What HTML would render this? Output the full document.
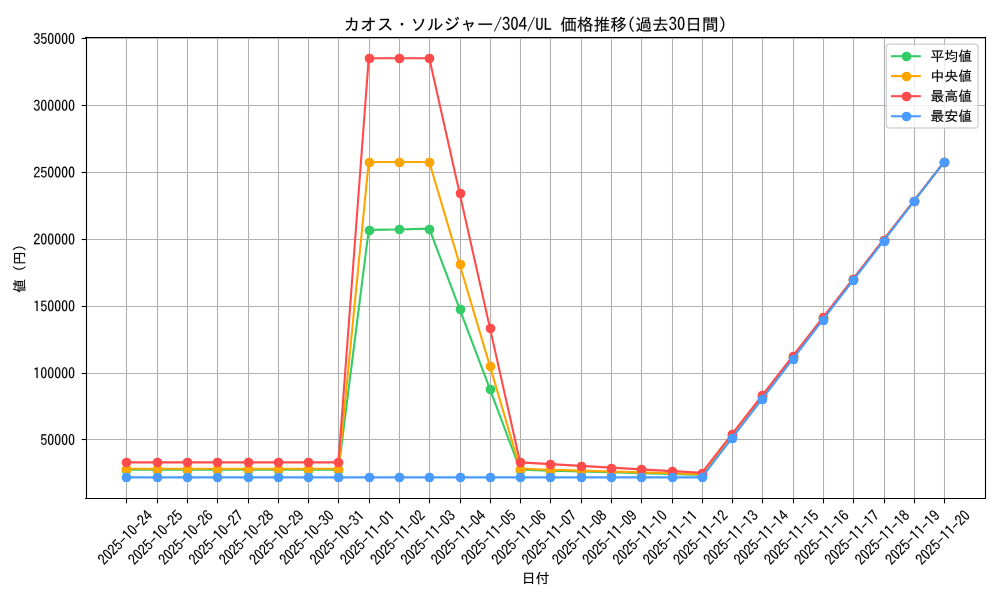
<!DOCTYPE html>
<html><head><meta charset="utf-8"><title>chart</title>
<style>html,body{margin:0;padding:0;background:#fff;width:1000px;height:600px;overflow:hidden;font-family:"Liberation Sans",sans-serif;}svg{display:block}g[id^="text_"] use{stroke:#000;stroke-width:60}</style>
</head><body>
<svg width="1000" height="600" viewBox="0 0 720 432">
<defs>
<style type="text/css">*{stroke-linejoin: round; stroke-linecap: butt}</style>
</defs>
<g id="figure_1">
<g id="patch_1">
<path d="M 0 432
L 720 432
L 720 0
L 0 0
z
" style="fill: #ffffff"/>
</g>
<g id="axes_1">
<g id="patch_2">
<path d="M 61.60104 358.8192
L 709.22304 358.8192
L 709.22304 26.892
L 61.60104 26.892
z
" style="fill: #ffffff"/>
</g>
<g id="matplotlib.axis_1">
<g id="xtick_1">
<g id="line2d_1">
<path d="M 91.0800 358.8192
L 91.0800 26.8920
" clip-path="url(#pd91340e1de)" style="fill: none; stroke: #b0b0b0; stroke-width: 0.8; stroke-linecap: square"/>
</g>
<g id="line2d_2">
<defs>
<path id="m7c25c535dc" d="M 0 0
L 0 3.5
" style="stroke: #000000; stroke-width: 0.8"/>
</defs>
<g>
<use href="#m7c25c535dc" x="91.0800" y="358.9200" style="stroke: #000000; stroke-width: 0.8"/>
</g>
</g>
<g id="text_1">
<!-- 2025-10-24 -->
<g transform="translate(75.183557 407.420469) rotate(-45) scale(0.1 -0.1)">
<defs>
<path id="IPAGothic-32" d="M 2900 325
L 250 325
Q 441 1553 1528 2453
Q 1963 2806 2116 3034
Q 2316 3319 2316 3706
Q 2316 4022 2175 4219
Q 1994 4494 1631 4494
Q 894 4494 825 3406
L 322 3406
Q 359 4056 628 4428
Q 981 4928 1644 4928
Q 2106 4928 2425 4659
Q 2828 4313 2828 3713
Q 2828 2875 1881 2156
Q 1072 1541 909 800
L 2900 800
L 2900 325
z
" transform="translate(-0.750 0) scale(0.016094 0.016719)"/>
<path id="IPAGothic-30" d="M 1600 4934 Q 2844 4934 2844 2566 Q 2844 197 1600 197 Q 359 197 359 2566 Q 359 4934 1600 4934 z M 1600 4494 Q 884 4494 884 2566 Q 884 638 1600 638 Q 2319 638 2319 2566 Q 2319 4494 1600 4494 z" transform="translate(-0.750 0) scale(0.016094 0.016719)"/>
<path id="IPAGothic-35" d="M 566 4806
L 2691 4806
L 2691 4359
L 1013 4359
L 944 2888
Q 1259 3250 1738 3250
Q 2250 3250 2588 2816
Q 2909 2397 2909 1772
Q 2909 1238 2697 844
Q 2341 197 1591 197
Q 538 197 328 1375
L 841 1375
Q 947 644 1588 644
Q 2000 644 2228 997
Q 2422 1294 2422 1766
Q 2422 2184 2259 2456
Q 2059 2822 1653 2822
Q 1156 2822 859 2225
L 456 2309
L 566 4806
z
" transform="translate(-0.750 0) scale(0.016094 0.016719)"/>
<path id="IPAGothic-2d" d="M 313 2663
L 2884 2663
L 2884 2203
L 313 2203
L 313 2663
z
" transform="scale(0.015625)"/>
<path id="IPAGothic-31" d="M 1428 325 L 1428 4103 Q 1138 3950 606 3880 L 606 4380 Q 1256 4509 1563 4806 L 1953 4806 L 1953 325 L 1428 325 z" transform="translate(-0.750 0) scale(0.016094 0.016719)"/>
<path id="IPAGothic-34" d="M 1966 4806
L 2509 4806
L 2509 1869
L 3041 1869
L 3041 1434
L 2509 1434
L 2509 325
L 2034 325
L 2034 1434
L 159 1434
L 159 1881
L 1966 4806
z
M 2034 4109
L 641 1869
L 2034 1869
L 2034 4109
z
" transform="translate(-0.750 0) scale(0.016094 0.016719)"/>
</defs>
<use href="#IPAGothic-32"/>
<use href="#IPAGothic-30" transform="translate(50 0)"/>
<use href="#IPAGothic-32" transform="translate(100 0)"/>
<use href="#IPAGothic-35" transform="translate(150 0)"/>
<use href="#IPAGothic-2d" transform="translate(200 0)"/>
<use href="#IPAGothic-31" transform="translate(250 0)"/>
<use href="#IPAGothic-30" transform="translate(300 0)"/>
<use href="#IPAGothic-2d" transform="translate(350 0)"/>
<use href="#IPAGothic-32" transform="translate(400 0)"/>
<use href="#IPAGothic-34" transform="translate(450 0)"/>
</g>
</g>
</g>
<g id="xtick_2">
<g id="line2d_3">
<path d="M 113.4000 358.8192
L 113.4000 26.8920
" clip-path="url(#pd91340e1de)" style="fill: none; stroke: #b0b0b0; stroke-width: 0.8; stroke-linecap: square"/>
</g>
<g id="line2d_4">
<g>
<use href="#m7c25c535dc" x="113.4000" y="358.9200" style="stroke: #000000; stroke-width: 0.8"/>
</g>
</g>
<g id="text_2">
<!-- 2025-10-25 -->
<g transform="translate(96.989012 407.420469) rotate(-45) scale(0.1 -0.1)">
<use href="#IPAGothic-32"/>
<use href="#IPAGothic-30" transform="translate(50 0)"/>
<use href="#IPAGothic-32" transform="translate(100 0)"/>
<use href="#IPAGothic-35" transform="translate(150 0)"/>
<use href="#IPAGothic-2d" transform="translate(200 0)"/>
<use href="#IPAGothic-31" transform="translate(250 0)"/>
<use href="#IPAGothic-30" transform="translate(300 0)"/>
<use href="#IPAGothic-2d" transform="translate(350 0)"/>
<use href="#IPAGothic-32" transform="translate(400 0)"/>
<use href="#IPAGothic-35" transform="translate(450 0)"/>
</g>
</g>
</g>
<g id="xtick_3">
<g id="line2d_5">
<path d="M 135.0000 358.8192
L 135.0000 26.8920
" clip-path="url(#pd91340e1de)" style="fill: none; stroke: #b0b0b0; stroke-width: 0.8; stroke-linecap: square"/>
</g>
<g id="line2d_6">
<g>
<use href="#m7c25c535dc" x="135.0000" y="358.9200" style="stroke: #000000; stroke-width: 0.8"/>
</g>
</g>
<g id="text_3">
<!-- 2025-10-26 -->
<g transform="translate(118.794466 407.420469) rotate(-45) scale(0.1 -0.1)">
<defs>
<path id="IPAGothic-36" d="M 2322 3809
Q 2225 4488 1713 4488
Q 1269 4488 1028 3950
Q 803 3447 794 2588
Q 1159 3119 1725 3119
Q 2194 3119 2519 2772
Q 2903 2369 2903 1709
Q 2903 1159 2641 750
Q 2284 200 1638 200
Q 1050 200 697 738
Q 319 1328 319 2375
Q 319 3488 650 4172
Q 1028 4934 1706 4934
Q 2634 4934 2847 3809
L 2322 3809
z
M 1644 2703
Q 1272 2703 1047 2363
Q 875 2094 875 1691
Q 875 1328 997 1075
Q 1209 641 1650 641
Q 2003 641 2219 959
Q 2409 1241 2409 1697
Q 2409 2113 2244 2375
Q 2041 2703 1644 2703
z
" transform="translate(-0.750 0) scale(0.016094 0.016719)"/>
</defs>
<use href="#IPAGothic-32"/>
<use href="#IPAGothic-30" transform="translate(50 0)"/>
<use href="#IPAGothic-32" transform="translate(100 0)"/>
<use href="#IPAGothic-35" transform="translate(150 0)"/>
<use href="#IPAGothic-2d" transform="translate(200 0)"/>
<use href="#IPAGothic-31" transform="translate(250 0)"/>
<use href="#IPAGothic-30" transform="translate(300 0)"/>
<use href="#IPAGothic-2d" transform="translate(350 0)"/>
<use href="#IPAGothic-32" transform="translate(400 0)"/>
<use href="#IPAGothic-36" transform="translate(450 0)"/>
</g>
</g>
</g>
<g id="xtick_4">
<g id="line2d_7">
<path d="M 156.6000 358.8192
L 156.6000 26.8920
" clip-path="url(#pd91340e1de)" style="fill: none; stroke: #b0b0b0; stroke-width: 0.8; stroke-linecap: square"/>
</g>
<g id="line2d_8">
<g>
<use href="#m7c25c535dc" x="156.6000" y="358.9200" style="stroke: #000000; stroke-width: 0.8"/>
</g>
</g>
<g id="text_4">
<!-- 2025-10-27 -->
<g transform="translate(140.599921 407.420469) rotate(-45) scale(0.1 -0.1)">
<defs>
<path id="IPAGothic-37" d="M 319 4806
L 2878 4806
L 2878 4441
Q 1978 2213 1528 325
L 947 325
Q 1434 2050 2328 4319
L 319 4319
L 319 4806
z
" transform="translate(-0.750 0) scale(0.016094 0.016719)"/>
</defs>
<use href="#IPAGothic-32"/>
<use href="#IPAGothic-30" transform="translate(50 0)"/>
<use href="#IPAGothic-32" transform="translate(100 0)"/>
<use href="#IPAGothic-35" transform="translate(150 0)"/>
<use href="#IPAGothic-2d" transform="translate(200 0)"/>
<use href="#IPAGothic-31" transform="translate(250 0)"/>
<use href="#IPAGothic-30" transform="translate(300 0)"/>
<use href="#IPAGothic-2d" transform="translate(350 0)"/>
<use href="#IPAGothic-32" transform="translate(400 0)"/>
<use href="#IPAGothic-37" transform="translate(450 0)"/>
</g>
</g>
</g>
<g id="xtick_5">
<g id="line2d_9">
<path d="M 178.9200 358.8192
L 178.9200 26.8920
" clip-path="url(#pd91340e1de)" style="fill: none; stroke: #b0b0b0; stroke-width: 0.8; stroke-linecap: square"/>
</g>
<g id="line2d_10">
<g>
<use href="#m7c25c535dc" x="178.9200" y="358.9200" style="stroke: #000000; stroke-width: 0.8"/>
</g>
</g>
<g id="text_5">
<!-- 2025-10-28 -->
<g transform="translate(162.405376 407.420469) rotate(-45) scale(0.1 -0.1)">
<defs>
<path id="IPAGothic-38" d="M 1050 2741
Q 403 3056 403 3750
Q 403 4084 563 4359
Q 900 4934 1600 4934
Q 1950 4934 2253 4750
Q 2797 4416 2797 3750
Q 2797 3056 2150 2741
Q 2978 2422 2978 1541
Q 2978 1038 2697 678
Q 2322 197 1600 197
Q 988 197 616 550
Q 225 922 225 1541
Q 225 2422 1050 2741
z
M 1600 4525
Q 1278 4525 1075 4294
Q 891 4078 891 3756
Q 891 3544 969 3372
Q 1159 2956 1606 2956
Q 1863 2956 2041 3116
Q 2309 3347 2309 3756
Q 2309 4156 2041 4378
Q 1856 4525 1600 4525
z
M 1594 2497
Q 1178 2497 931 2191
Q 725 1925 725 1541
Q 725 1172 925 925
Q 1172 619 1600 619
Q 2031 619 2281 925
Q 2478 1172 2478 1541
Q 2478 2022 2184 2278
Q 1947 2497 1594 2497
z
" transform="translate(-0.750 0) scale(0.016094 0.016719)"/>
</defs>
<use href="#IPAGothic-32"/>
<use href="#IPAGothic-30" transform="translate(50 0)"/>
<use href="#IPAGothic-32" transform="translate(100 0)"/>
<use href="#IPAGothic-35" transform="translate(150 0)"/>
<use href="#IPAGothic-2d" transform="translate(200 0)"/>
<use href="#IPAGothic-31" transform="translate(250 0)"/>
<use href="#IPAGothic-30" transform="translate(300 0)"/>
<use href="#IPAGothic-2d" transform="translate(350 0)"/>
<use href="#IPAGothic-32" transform="translate(400 0)"/>
<use href="#IPAGothic-38" transform="translate(450 0)"/>
</g>
</g>
</g>
<g id="xtick_6">
<g id="line2d_11">
<path d="M 200.5200 358.8192
L 200.5200 26.8920
" clip-path="url(#pd91340e1de)" style="fill: none; stroke: #b0b0b0; stroke-width: 0.8; stroke-linecap: square"/>
</g>
<g id="line2d_12">
<g>
<use href="#m7c25c535dc" x="200.5200" y="358.9200" style="stroke: #000000; stroke-width: 0.8"/>
</g>
</g>
<g id="text_6">
<!-- 2025-10-29 -->
<g transform="translate(184.21083 407.420469) rotate(-45) scale(0.1 -0.1)">
<defs>
<path id="IPAGothic-39" d="M 909 1363
Q 988 666 1569 666
Q 2431 666 2422 2500
Q 2063 1972 1519 1972
Q 859 1972 531 2588
Q 347 2947 347 3419
Q 347 4019 672 4459
Q 1022 4934 1569 4934
Q 2888 4934 2888 2706
Q 2888 197 1575 197
Q 975 197 628 716
Q 450 984 384 1363
L 909 1363
z
M 1591 4494
Q 834 4494 834 3431
Q 834 3038 969 2778
Q 1169 2394 1591 2394
Q 1859 2394 2069 2631
Q 2338 2938 2338 3431
Q 2338 3925 2125 4213
Q 1922 4494 1591 4494
z
" transform="translate(-0.750 0) scale(0.016094 0.016719)"/>
</defs>
<use href="#IPAGothic-32"/>
<use href="#IPAGothic-30" transform="translate(50 0)"/>
<use href="#IPAGothic-32" transform="translate(100 0)"/>
<use href="#IPAGothic-35" transform="translate(150 0)"/>
<use href="#IPAGothic-2d" transform="translate(200 0)"/>
<use href="#IPAGothic-31" transform="translate(250 0)"/>
<use href="#IPAGothic-30" transform="translate(300 0)"/>
<use href="#IPAGothic-2d" transform="translate(350 0)"/>
<use href="#IPAGothic-32" transform="translate(400 0)"/>
<use href="#IPAGothic-39" transform="translate(450 0)"/>
</g>
</g>
</g>
<g id="xtick_7">
<g id="line2d_13">
<path d="M 222.1200 358.8192
L 222.1200 26.8920
" clip-path="url(#pd91340e1de)" style="fill: none; stroke: #b0b0b0; stroke-width: 0.8; stroke-linecap: square"/>
</g>
<g id="line2d_14">
<g>
<use href="#m7c25c535dc" x="222.1200" y="358.9200" style="stroke: #000000; stroke-width: 0.8"/>
</g>
</g>
<g id="text_7">
<!-- 2025-10-30 -->
<g transform="translate(206.016285 407.420469) rotate(-45) scale(0.1 -0.1)">
<defs>
<path id="IPAGothic-33" d="M 1113 2931
L 1431 2931
Q 1841 2931 1994 3047
Q 2281 3269 2281 3713
Q 2281 4500 1566 4500
Q 972 4500 838 3828
L 331 3828
Q 400 4250 625 4525
Q 969 4934 1566 4934
Q 2066 4934 2391 4647
Q 2775 4309 2775 3731
Q 2775 2953 2078 2713
Q 2919 2388 2919 1528
Q 2919 978 2606 625
Q 2231 197 1575 197
Q 959 197 594 619
Q 325 928 269 1472
L 794 1472
Q 859 638 1575 638
Q 1906 638 2131 825
Q 2413 1066 2413 1528
Q 2413 2522 1431 2522
L 1113 2522
L 1113 2931
z
" transform="translate(-0.750 0) scale(0.016094 0.016719)"/>
</defs>
<use href="#IPAGothic-32"/>
<use href="#IPAGothic-30" transform="translate(50 0)"/>
<use href="#IPAGothic-32" transform="translate(100 0)"/>
<use href="#IPAGothic-35" transform="translate(150 0)"/>
<use href="#IPAGothic-2d" transform="translate(200 0)"/>
<use href="#IPAGothic-31" transform="translate(250 0)"/>
<use href="#IPAGothic-30" transform="translate(300 0)"/>
<use href="#IPAGothic-2d" transform="translate(350 0)"/>
<use href="#IPAGothic-33" transform="translate(400 0)"/>
<use href="#IPAGothic-30" transform="translate(450 0)"/>
</g>
</g>
</g>
<g id="xtick_8">
<g id="line2d_15">
<path d="M 243.7200 358.8192
L 243.7200 26.8920
" clip-path="url(#pd91340e1de)" style="fill: none; stroke: #b0b0b0; stroke-width: 0.8; stroke-linecap: square"/>
</g>
<g id="line2d_16">
<g>
<use href="#m7c25c535dc" x="243.7200" y="358.9200" style="stroke: #000000; stroke-width: 0.8"/>
</g>
</g>
<g id="text_8">
<!-- 2025-10-31 -->
<g transform="translate(227.821739 407.420469) rotate(-45) scale(0.1 -0.1)">
<use href="#IPAGothic-32"/>
<use href="#IPAGothic-30" transform="translate(50 0)"/>
<use href="#IPAGothic-32" transform="translate(100 0)"/>
<use href="#IPAGothic-35" transform="translate(150 0)"/>
<use href="#IPAGothic-2d" transform="translate(200 0)"/>
<use href="#IPAGothic-31" transform="translate(250 0)"/>
<use href="#IPAGothic-30" transform="translate(300 0)"/>
<use href="#IPAGothic-2d" transform="translate(350 0)"/>
<use href="#IPAGothic-33" transform="translate(400 0)"/>
<use href="#IPAGothic-31" transform="translate(450 0)"/>
</g>
</g>
</g>
<g id="xtick_9">
<g id="line2d_17">
<path d="M 266.0400 358.8192
L 266.0400 26.8920
" clip-path="url(#pd91340e1de)" style="fill: none; stroke: #b0b0b0; stroke-width: 0.8; stroke-linecap: square"/>
</g>
<g id="line2d_18">
<g>
<use href="#m7c25c535dc" x="266.0400" y="358.9200" style="stroke: #000000; stroke-width: 0.8"/>
</g>
</g>
<g id="text_9">
<!-- 2025-11-01 -->
<g transform="translate(249.627194 407.420469) rotate(-45) scale(0.1 -0.1)">
<use href="#IPAGothic-32"/>
<use href="#IPAGothic-30" transform="translate(50 0)"/>
<use href="#IPAGothic-32" transform="translate(100 0)"/>
<use href="#IPAGothic-35" transform="translate(150 0)"/>
<use href="#IPAGothic-2d" transform="translate(200 0)"/>
<use href="#IPAGothic-31" transform="translate(250 0)"/>
<use href="#IPAGothic-31" transform="translate(300 0)"/>
<use href="#IPAGothic-2d" transform="translate(350 0)"/>
<use href="#IPAGothic-30" transform="translate(400 0)"/>
<use href="#IPAGothic-31" transform="translate(450 0)"/>
</g>
</g>
</g>
<g id="xtick_10">
<g id="line2d_19">
<path d="M 287.6400 358.8192
L 287.6400 26.8920
" clip-path="url(#pd91340e1de)" style="fill: none; stroke: #b0b0b0; stroke-width: 0.8; stroke-linecap: square"/>
</g>
<g id="line2d_20">
<g>
<use href="#m7c25c535dc" x="287.6400" y="358.9200" style="stroke: #000000; stroke-width: 0.8"/>
</g>
</g>
<g id="text_10">
<!-- 2025-11-02 -->
<g transform="translate(271.432648 407.420469) rotate(-45) scale(0.1 -0.1)">
<use href="#IPAGothic-32"/>
<use href="#IPAGothic-30" transform="translate(50 0)"/>
<use href="#IPAGothic-32" transform="translate(100 0)"/>
<use href="#IPAGothic-35" transform="translate(150 0)"/>
<use href="#IPAGothic-2d" transform="translate(200 0)"/>
<use href="#IPAGothic-31" transform="translate(250 0)"/>
<use href="#IPAGothic-31" transform="translate(300 0)"/>
<use href="#IPAGothic-2d" transform="translate(350 0)"/>
<use href="#IPAGothic-30" transform="translate(400 0)"/>
<use href="#IPAGothic-32" transform="translate(450 0)"/>
</g>
</g>
</g>
<g id="xtick_11">
<g id="line2d_21">
<path d="M 309.2400 358.8192
L 309.2400 26.8920
" clip-path="url(#pd91340e1de)" style="fill: none; stroke: #b0b0b0; stroke-width: 0.8; stroke-linecap: square"/>
</g>
<g id="line2d_22">
<g>
<use href="#m7c25c535dc" x="309.2400" y="358.9200" style="stroke: #000000; stroke-width: 0.8"/>
</g>
</g>
<g id="text_11">
<!-- 2025-11-03 -->
<g transform="translate(293.238103 407.420469) rotate(-45) scale(0.1 -0.1)">
<use href="#IPAGothic-32"/>
<use href="#IPAGothic-30" transform="translate(50 0)"/>
<use href="#IPAGothic-32" transform="translate(100 0)"/>
<use href="#IPAGothic-35" transform="translate(150 0)"/>
<use href="#IPAGothic-2d" transform="translate(200 0)"/>
<use href="#IPAGothic-31" transform="translate(250 0)"/>
<use href="#IPAGothic-31" transform="translate(300 0)"/>
<use href="#IPAGothic-2d" transform="translate(350 0)"/>
<use href="#IPAGothic-30" transform="translate(400 0)"/>
<use href="#IPAGothic-33" transform="translate(450 0)"/>
</g>
</g>
</g>
<g id="xtick_12">
<g id="line2d_23">
<path d="M 331.5600 358.8192
L 331.5600 26.8920
" clip-path="url(#pd91340e1de)" style="fill: none; stroke: #b0b0b0; stroke-width: 0.8; stroke-linecap: square"/>
</g>
<g id="line2d_24">
<g>
<use href="#m7c25c535dc" x="331.5600" y="358.9200" style="stroke: #000000; stroke-width: 0.8"/>
</g>
</g>
<g id="text_12">
<!-- 2025-11-04 -->
<g transform="translate(315.043557 407.420469) rotate(-45) scale(0.1 -0.1)">
<use href="#IPAGothic-32"/>
<use href="#IPAGothic-30" transform="translate(50 0)"/>
<use href="#IPAGothic-32" transform="translate(100 0)"/>
<use href="#IPAGothic-35" transform="translate(150 0)"/>
<use href="#IPAGothic-2d" transform="translate(200 0)"/>
<use href="#IPAGothic-31" transform="translate(250 0)"/>
<use href="#IPAGothic-31" transform="translate(300 0)"/>
<use href="#IPAGothic-2d" transform="translate(350 0)"/>
<use href="#IPAGothic-30" transform="translate(400 0)"/>
<use href="#IPAGothic-34" transform="translate(450 0)"/>
</g>
</g>
</g>
<g id="xtick_13">
<g id="line2d_25">
<path d="M 353.1600 358.8192
L 353.1600 26.8920
" clip-path="url(#pd91340e1de)" style="fill: none; stroke: #b0b0b0; stroke-width: 0.8; stroke-linecap: square"/>
</g>
<g id="line2d_26">
<g>
<use href="#m7c25c535dc" x="353.1600" y="358.9200" style="stroke: #000000; stroke-width: 0.8"/>
</g>
</g>
<g id="text_13">
<!-- 2025-11-05 -->
<g transform="translate(336.849012 407.420469) rotate(-45) scale(0.1 -0.1)">
<use href="#IPAGothic-32"/>
<use href="#IPAGothic-30" transform="translate(50 0)"/>
<use href="#IPAGothic-32" transform="translate(100 0)"/>
<use href="#IPAGothic-35" transform="translate(150 0)"/>
<use href="#IPAGothic-2d" transform="translate(200 0)"/>
<use href="#IPAGothic-31" transform="translate(250 0)"/>
<use href="#IPAGothic-31" transform="translate(300 0)"/>
<use href="#IPAGothic-2d" transform="translate(350 0)"/>
<use href="#IPAGothic-30" transform="translate(400 0)"/>
<use href="#IPAGothic-35" transform="translate(450 0)"/>
</g>
</g>
</g>
<g id="xtick_14">
<g id="line2d_27">
<path d="M 374.7600 358.8192
L 374.7600 26.8920
" clip-path="url(#pd91340e1de)" style="fill: none; stroke: #b0b0b0; stroke-width: 0.8; stroke-linecap: square"/>
</g>
<g id="line2d_28">
<g>
<use href="#m7c25c535dc" x="374.7600" y="358.9200" style="stroke: #000000; stroke-width: 0.8"/>
</g>
</g>
<g id="text_14">
<!-- 2025-11-06 -->
<g transform="translate(358.654466 407.420469) rotate(-45) scale(0.1 -0.1)">
<use href="#IPAGothic-32"/>
<use href="#IPAGothic-30" transform="translate(50 0)"/>
<use href="#IPAGothic-32" transform="translate(100 0)"/>
<use href="#IPAGothic-35" transform="translate(150 0)"/>
<use href="#IPAGothic-2d" transform="translate(200 0)"/>
<use href="#IPAGothic-31" transform="translate(250 0)"/>
<use href="#IPAGothic-31" transform="translate(300 0)"/>
<use href="#IPAGothic-2d" transform="translate(350 0)"/>
<use href="#IPAGothic-30" transform="translate(400 0)"/>
<use href="#IPAGothic-36" transform="translate(450 0)"/>
</g>
</g>
</g>
<g id="xtick_15">
<g id="line2d_29">
<path d="M 396.3600 358.8192
L 396.3600 26.8920
" clip-path="url(#pd91340e1de)" style="fill: none; stroke: #b0b0b0; stroke-width: 0.8; stroke-linecap: square"/>
</g>
<g id="line2d_30">
<g>
<use href="#m7c25c535dc" x="396.3600" y="358.9200" style="stroke: #000000; stroke-width: 0.8"/>
</g>
</g>
<g id="text_15">
<!-- 2025-11-07 -->
<g transform="translate(380.459921 407.420469) rotate(-45) scale(0.1 -0.1)">
<use href="#IPAGothic-32"/>
<use href="#IPAGothic-30" transform="translate(50 0)"/>
<use href="#IPAGothic-32" transform="translate(100 0)"/>
<use href="#IPAGothic-35" transform="translate(150 0)"/>
<use href="#IPAGothic-2d" transform="translate(200 0)"/>
<use href="#IPAGothic-31" transform="translate(250 0)"/>
<use href="#IPAGothic-31" transform="translate(300 0)"/>
<use href="#IPAGothic-2d" transform="translate(350 0)"/>
<use href="#IPAGothic-30" transform="translate(400 0)"/>
<use href="#IPAGothic-37" transform="translate(450 0)"/>
</g>
</g>
</g>
<g id="xtick_16">
<g id="line2d_31">
<path d="M 418.6800 358.8192
L 418.6800 26.8920
" clip-path="url(#pd91340e1de)" style="fill: none; stroke: #b0b0b0; stroke-width: 0.8; stroke-linecap: square"/>
</g>
<g id="line2d_32">
<g>
<use href="#m7c25c535dc" x="418.6800" y="358.9200" style="stroke: #000000; stroke-width: 0.8"/>
</g>
</g>
<g id="text_16">
<!-- 2025-11-08 -->
<g transform="translate(402.265376 407.420469) rotate(-45) scale(0.1 -0.1)">
<use href="#IPAGothic-32"/>
<use href="#IPAGothic-30" transform="translate(50 0)"/>
<use href="#IPAGothic-32" transform="translate(100 0)"/>
<use href="#IPAGothic-35" transform="translate(150 0)"/>
<use href="#IPAGothic-2d" transform="translate(200 0)"/>
<use href="#IPAGothic-31" transform="translate(250 0)"/>
<use href="#IPAGothic-31" transform="translate(300 0)"/>
<use href="#IPAGothic-2d" transform="translate(350 0)"/>
<use href="#IPAGothic-30" transform="translate(400 0)"/>
<use href="#IPAGothic-38" transform="translate(450 0)"/>
</g>
</g>
</g>
<g id="xtick_17">
<g id="line2d_33">
<path d="M 440.2800 358.8192
L 440.2800 26.8920
" clip-path="url(#pd91340e1de)" style="fill: none; stroke: #b0b0b0; stroke-width: 0.8; stroke-linecap: square"/>
</g>
<g id="line2d_34">
<g>
<use href="#m7c25c535dc" x="440.2800" y="358.9200" style="stroke: #000000; stroke-width: 0.8"/>
</g>
</g>
<g id="text_17">
<!-- 2025-11-09 -->
<g transform="translate(424.07083 407.420469) rotate(-45) scale(0.1 -0.1)">
<use href="#IPAGothic-32"/>
<use href="#IPAGothic-30" transform="translate(50 0)"/>
<use href="#IPAGothic-32" transform="translate(100 0)"/>
<use href="#IPAGothic-35" transform="translate(150 0)"/>
<use href="#IPAGothic-2d" transform="translate(200 0)"/>
<use href="#IPAGothic-31" transform="translate(250 0)"/>
<use href="#IPAGothic-31" transform="translate(300 0)"/>
<use href="#IPAGothic-2d" transform="translate(350 0)"/>
<use href="#IPAGothic-30" transform="translate(400 0)"/>
<use href="#IPAGothic-39" transform="translate(450 0)"/>
</g>
</g>
</g>
<g id="xtick_18">
<g id="line2d_35">
<path d="M 461.8800 358.8192
L 461.8800 26.8920
" clip-path="url(#pd91340e1de)" style="fill: none; stroke: #b0b0b0; stroke-width: 0.8; stroke-linecap: square"/>
</g>
<g id="line2d_36">
<g>
<use href="#m7c25c535dc" x="461.8800" y="358.9200" style="stroke: #000000; stroke-width: 0.8"/>
</g>
</g>
<g id="text_18">
<!-- 2025-11-10 -->
<g transform="translate(445.876285 407.420469) rotate(-45) scale(0.1 -0.1)">
<use href="#IPAGothic-32"/>
<use href="#IPAGothic-30" transform="translate(50 0)"/>
<use href="#IPAGothic-32" transform="translate(100 0)"/>
<use href="#IPAGothic-35" transform="translate(150 0)"/>
<use href="#IPAGothic-2d" transform="translate(200 0)"/>
<use href="#IPAGothic-31" transform="translate(250 0)"/>
<use href="#IPAGothic-31" transform="translate(300 0)"/>
<use href="#IPAGothic-2d" transform="translate(350 0)"/>
<use href="#IPAGothic-31" transform="translate(400 0)"/>
<use href="#IPAGothic-30" transform="translate(450 0)"/>
</g>
</g>
</g>
<g id="xtick_19">
<g id="line2d_37">
<path d="M 484.2000 358.8192
L 484.2000 26.8920
" clip-path="url(#pd91340e1de)" style="fill: none; stroke: #b0b0b0; stroke-width: 0.8; stroke-linecap: square"/>
</g>
<g id="line2d_38">
<g>
<use href="#m7c25c535dc" x="484.2000" y="358.9200" style="stroke: #000000; stroke-width: 0.8"/>
</g>
</g>
<g id="text_19">
<!-- 2025-11-11 -->
<g transform="translate(467.681739 407.420469) rotate(-45) scale(0.1 -0.1)">
<use href="#IPAGothic-32"/>
<use href="#IPAGothic-30" transform="translate(50 0)"/>
<use href="#IPAGothic-32" transform="translate(100 0)"/>
<use href="#IPAGothic-35" transform="translate(150 0)"/>
<use href="#IPAGothic-2d" transform="translate(200 0)"/>
<use href="#IPAGothic-31" transform="translate(250 0)"/>
<use href="#IPAGothic-31" transform="translate(300 0)"/>
<use href="#IPAGothic-2d" transform="translate(350 0)"/>
<use href="#IPAGothic-31" transform="translate(400 0)"/>
<use href="#IPAGothic-31" transform="translate(450 0)"/>
</g>
</g>
</g>
<g id="xtick_20">
<g id="line2d_39">
<path d="M 505.8000 358.8192
L 505.8000 26.8920
" clip-path="url(#pd91340e1de)" style="fill: none; stroke: #b0b0b0; stroke-width: 0.8; stroke-linecap: square"/>
</g>
<g id="line2d_40">
<g>
<use href="#m7c25c535dc" x="505.8000" y="358.9200" style="stroke: #000000; stroke-width: 0.8"/>
</g>
</g>
<g id="text_20">
<!-- 2025-11-12 -->
<g transform="translate(489.487194 407.420469) rotate(-45) scale(0.1 -0.1)">
<use href="#IPAGothic-32"/>
<use href="#IPAGothic-30" transform="translate(50 0)"/>
<use href="#IPAGothic-32" transform="translate(100 0)"/>
<use href="#IPAGothic-35" transform="translate(150 0)"/>
<use href="#IPAGothic-2d" transform="translate(200 0)"/>
<use href="#IPAGothic-31" transform="translate(250 0)"/>
<use href="#IPAGothic-31" transform="translate(300 0)"/>
<use href="#IPAGothic-2d" transform="translate(350 0)"/>
<use href="#IPAGothic-31" transform="translate(400 0)"/>
<use href="#IPAGothic-32" transform="translate(450 0)"/>
</g>
</g>
</g>
<g id="xtick_21">
<g id="line2d_41">
<path d="M 527.4000 358.8192
L 527.4000 26.8920
" clip-path="url(#pd91340e1de)" style="fill: none; stroke: #b0b0b0; stroke-width: 0.8; stroke-linecap: square"/>
</g>
<g id="line2d_42">
<g>
<use href="#m7c25c535dc" x="527.4000" y="358.9200" style="stroke: #000000; stroke-width: 0.8"/>
</g>
</g>
<g id="text_21">
<!-- 2025-11-13 -->
<g transform="translate(511.292648 407.420469) rotate(-45) scale(0.1 -0.1)">
<use href="#IPAGothic-32"/>
<use href="#IPAGothic-30" transform="translate(50 0)"/>
<use href="#IPAGothic-32" transform="translate(100 0)"/>
<use href="#IPAGothic-35" transform="translate(150 0)"/>
<use href="#IPAGothic-2d" transform="translate(200 0)"/>
<use href="#IPAGothic-31" transform="translate(250 0)"/>
<use href="#IPAGothic-31" transform="translate(300 0)"/>
<use href="#IPAGothic-2d" transform="translate(350 0)"/>
<use href="#IPAGothic-31" transform="translate(400 0)"/>
<use href="#IPAGothic-33" transform="translate(450 0)"/>
</g>
</g>
</g>
<g id="xtick_22">
<g id="line2d_43">
<path d="M 549.0000 358.8192
L 549.0000 26.8920
" clip-path="url(#pd91340e1de)" style="fill: none; stroke: #b0b0b0; stroke-width: 0.8; stroke-linecap: square"/>
</g>
<g id="line2d_44">
<g>
<use href="#m7c25c535dc" x="549.0000" y="358.9200" style="stroke: #000000; stroke-width: 0.8"/>
</g>
</g>
<g id="text_22">
<!-- 2025-11-14 -->
<g transform="translate(533.098103 407.420469) rotate(-45) scale(0.1 -0.1)">
<use href="#IPAGothic-32"/>
<use href="#IPAGothic-30" transform="translate(50 0)"/>
<use href="#IPAGothic-32" transform="translate(100 0)"/>
<use href="#IPAGothic-35" transform="translate(150 0)"/>
<use href="#IPAGothic-2d" transform="translate(200 0)"/>
<use href="#IPAGothic-31" transform="translate(250 0)"/>
<use href="#IPAGothic-31" transform="translate(300 0)"/>
<use href="#IPAGothic-2d" transform="translate(350 0)"/>
<use href="#IPAGothic-31" transform="translate(400 0)"/>
<use href="#IPAGothic-34" transform="translate(450 0)"/>
</g>
</g>
</g>
<g id="xtick_23">
<g id="line2d_45">
<path d="M 571.3200 358.8192
L 571.3200 26.8920
" clip-path="url(#pd91340e1de)" style="fill: none; stroke: #b0b0b0; stroke-width: 0.8; stroke-linecap: square"/>
</g>
<g id="line2d_46">
<g>
<use href="#m7c25c535dc" x="571.3200" y="358.9200" style="stroke: #000000; stroke-width: 0.8"/>
</g>
</g>
<g id="text_23">
<!-- 2025-11-15 -->
<g transform="translate(554.903557 407.420469) rotate(-45) scale(0.1 -0.1)">
<use href="#IPAGothic-32"/>
<use href="#IPAGothic-30" transform="translate(50 0)"/>
<use href="#IPAGothic-32" transform="translate(100 0)"/>
<use href="#IPAGothic-35" transform="translate(150 0)"/>
<use href="#IPAGothic-2d" transform="translate(200 0)"/>
<use href="#IPAGothic-31" transform="translate(250 0)"/>
<use href="#IPAGothic-31" transform="translate(300 0)"/>
<use href="#IPAGothic-2d" transform="translate(350 0)"/>
<use href="#IPAGothic-31" transform="translate(400 0)"/>
<use href="#IPAGothic-35" transform="translate(450 0)"/>
</g>
</g>
</g>
<g id="xtick_24">
<g id="line2d_47">
<path d="M 592.9200 358.8192
L 592.9200 26.8920
" clip-path="url(#pd91340e1de)" style="fill: none; stroke: #b0b0b0; stroke-width: 0.8; stroke-linecap: square"/>
</g>
<g id="line2d_48">
<g>
<use href="#m7c25c535dc" x="592.9200" y="358.9200" style="stroke: #000000; stroke-width: 0.8"/>
</g>
</g>
<g id="text_24">
<!-- 2025-11-16 -->
<g transform="translate(576.709012 407.420469) rotate(-45) scale(0.1 -0.1)">
<use href="#IPAGothic-32"/>
<use href="#IPAGothic-30" transform="translate(50 0)"/>
<use href="#IPAGothic-32" transform="translate(100 0)"/>
<use href="#IPAGothic-35" transform="translate(150 0)"/>
<use href="#IPAGothic-2d" transform="translate(200 0)"/>
<use href="#IPAGothic-31" transform="translate(250 0)"/>
<use href="#IPAGothic-31" transform="translate(300 0)"/>
<use href="#IPAGothic-2d" transform="translate(350 0)"/>
<use href="#IPAGothic-31" transform="translate(400 0)"/>
<use href="#IPAGothic-36" transform="translate(450 0)"/>
</g>
</g>
</g>
<g id="xtick_25">
<g id="line2d_49">
<path d="M 614.5200 358.8192
L 614.5200 26.8920
" clip-path="url(#pd91340e1de)" style="fill: none; stroke: #b0b0b0; stroke-width: 0.8; stroke-linecap: square"/>
</g>
<g id="line2d_50">
<g>
<use href="#m7c25c535dc" x="614.5200" y="358.9200" style="stroke: #000000; stroke-width: 0.8"/>
</g>
</g>
<g id="text_25">
<!-- 2025-11-17 -->
<g transform="translate(598.514466 407.420469) rotate(-45) scale(0.1 -0.1)">
<use href="#IPAGothic-32"/>
<use href="#IPAGothic-30" transform="translate(50 0)"/>
<use href="#IPAGothic-32" transform="translate(100 0)"/>
<use href="#IPAGothic-35" transform="translate(150 0)"/>
<use href="#IPAGothic-2d" transform="translate(200 0)"/>
<use href="#IPAGothic-31" transform="translate(250 0)"/>
<use href="#IPAGothic-31" transform="translate(300 0)"/>
<use href="#IPAGothic-2d" transform="translate(350 0)"/>
<use href="#IPAGothic-31" transform="translate(400 0)"/>
<use href="#IPAGothic-37" transform="translate(450 0)"/>
</g>
</g>
</g>
<g id="xtick_26">
<g id="line2d_51">
<path d="M 636.8400 358.8192
L 636.8400 26.8920
" clip-path="url(#pd91340e1de)" style="fill: none; stroke: #b0b0b0; stroke-width: 0.8; stroke-linecap: square"/>
</g>
<g id="line2d_52">
<g>
<use href="#m7c25c535dc" x="636.8400" y="358.9200" style="stroke: #000000; stroke-width: 0.8"/>
</g>
</g>
<g id="text_26">
<!-- 2025-11-18 -->
<g transform="translate(620.319921 407.420469) rotate(-45) scale(0.1 -0.1)">
<use href="#IPAGothic-32"/>
<use href="#IPAGothic-30" transform="translate(50 0)"/>
<use href="#IPAGothic-32" transform="translate(100 0)"/>
<use href="#IPAGothic-35" transform="translate(150 0)"/>
<use href="#IPAGothic-2d" transform="translate(200 0)"/>
<use href="#IPAGothic-31" transform="translate(250 0)"/>
<use href="#IPAGothic-31" transform="translate(300 0)"/>
<use href="#IPAGothic-2d" transform="translate(350 0)"/>
<use href="#IPAGothic-31" transform="translate(400 0)"/>
<use href="#IPAGothic-38" transform="translate(450 0)"/>
</g>
</g>
</g>
<g id="xtick_27">
<g id="line2d_53">
<path d="M 658.4400 358.8192
L 658.4400 26.8920
" clip-path="url(#pd91340e1de)" style="fill: none; stroke: #b0b0b0; stroke-width: 0.8; stroke-linecap: square"/>
</g>
<g id="line2d_54">
<g>
<use href="#m7c25c535dc" x="658.4400" y="358.9200" style="stroke: #000000; stroke-width: 0.8"/>
</g>
</g>
<g id="text_27">
<!-- 2025-11-19 -->
<g transform="translate(642.125376 407.420469) rotate(-45) scale(0.1 -0.1)">
<use href="#IPAGothic-32"/>
<use href="#IPAGothic-30" transform="translate(50 0)"/>
<use href="#IPAGothic-32" transform="translate(100 0)"/>
<use href="#IPAGothic-35" transform="translate(150 0)"/>
<use href="#IPAGothic-2d" transform="translate(200 0)"/>
<use href="#IPAGothic-31" transform="translate(250 0)"/>
<use href="#IPAGothic-31" transform="translate(300 0)"/>
<use href="#IPAGothic-2d" transform="translate(350 0)"/>
<use href="#IPAGothic-31" transform="translate(400 0)"/>
<use href="#IPAGothic-39" transform="translate(450 0)"/>
</g>
</g>
</g>
<g id="xtick_28">
<g id="line2d_55">
<path d="M 680.0400 358.8192
L 680.0400 26.8920
" clip-path="url(#pd91340e1de)" style="fill: none; stroke: #b0b0b0; stroke-width: 0.8; stroke-linecap: square"/>
</g>
<g id="line2d_56">
<g>
<use href="#m7c25c535dc" x="680.0400" y="358.9200" style="stroke: #000000; stroke-width: 0.8"/>
</g>
</g>
<g id="text_28">
<!-- 2025-11-20 -->
<g transform="translate(663.93083 407.420469) rotate(-45) scale(0.1 -0.1)">
<use href="#IPAGothic-32"/>
<use href="#IPAGothic-30" transform="translate(50 0)"/>
<use href="#IPAGothic-32" transform="translate(100 0)"/>
<use href="#IPAGothic-35" transform="translate(150 0)"/>
<use href="#IPAGothic-2d" transform="translate(200 0)"/>
<use href="#IPAGothic-31" transform="translate(250 0)"/>
<use href="#IPAGothic-31" transform="translate(300 0)"/>
<use href="#IPAGothic-2d" transform="translate(350 0)"/>
<use href="#IPAGothic-32" transform="translate(400 0)"/>
<use href="#IPAGothic-30" transform="translate(450 0)"/>
</g>
</g>
</g>
<g id="text_29">
<!-- 日付 -->
<g transform="translate(375.62804 419.947065) scale(0.1 -0.1)">
<defs>
<path id="IPAGothic-65e5" d="M 5231 4800
L 5231 -288
L 4744 -288
L 4744 128
L 1647 128
L 1647 -288
L 1159 -288
L 1159 4800
L 5231 4800
z
M 1647 4372
L 1647 2731
L 4744 2731
L 4744 4372
L 1647 4372
z
M 1647 2297
L 1647 556
L 4744 556
L 4744 2297
L 1647 2297
z
" transform="scale(0.015625)"/>
<path id="IPAGothic-4ed8" d="M 1681 3772
L 1681 -447
L 1213 -447
L 1213 2825
Q 913 2316 578 1863
L 316 2253
Q 1241 3463 1653 5184
L 2128 5069
Q 1928 4378 1719 3859
L 1681 3772
z
M 5084 3816
L 5994 3816
L 5994 3388
L 5109 3388
L 5109 213
Q 5109 -78 5006 -191
Q 4888 -319 4525 -319
Q 4031 -319 3516 -266
L 3431 238
Q 3978 141 4403 141
Q 4634 141 4634 384
L 4634 3388
L 2031 3388
L 2031 3816
L 4609 3816
L 4609 5153
L 5084 5153
L 5084 3816
z
M 3431 1172
Q 3034 1994 2547 2566
L 2931 2822
Q 3428 2231 3853 1472
L 3431 1172
z
" transform="scale(0.015625)"/>
</defs>
<use href="#IPAGothic-65e5"/>
<use href="#IPAGothic-4ed8" transform="translate(100 0)"/>
</g>
</g>
</g>
<g id="matplotlib.axis_2">
<g id="ytick_1">
<g id="line2d_57">
<path d="M 61.6010 316.4400
L 709.2230 316.4400
" clip-path="url(#pd91340e1de)" style="fill: none; stroke: #b0b0b0; stroke-width: 0.8; stroke-linecap: square"/>
</g>
<g id="line2d_58">
<defs>
<path id="mb258c49b38" d="M 0 0
L -3.5 0
" style="stroke: #000000; stroke-width: 0.8"/>
</defs>
<g>
<use href="#mb258c49b38" x="62.2800" y="316.4400" style="stroke: #000000; stroke-width: 0.8"/>
</g>
</g>
<g id="text_30">
<!-- 50000 -->
<g transform="translate(29.02504 320.770556) scale(0.1 -0.1)">
<use href="#IPAGothic-35"/>
<use href="#IPAGothic-30" transform="translate(50 0)"/>
<use href="#IPAGothic-30" transform="translate(100 0)"/>
<use href="#IPAGothic-30" transform="translate(150 0)"/>
<use href="#IPAGothic-30" transform="translate(200 0)"/>
</g>
</g>
</g>
<g id="ytick_2">
<g id="line2d_59">
<path d="M 61.6010 268.9200
L 709.2230 268.9200
" clip-path="url(#pd91340e1de)" style="fill: none; stroke: #b0b0b0; stroke-width: 0.8; stroke-linecap: square"/>
</g>
<g id="line2d_60">
<g>
<use href="#mb258c49b38" x="62.2800" y="268.9200" style="stroke: #000000; stroke-width: 0.8"/>
</g>
</g>
<g id="text_31">
<!-- 100000 -->
<g transform="translate(24.02504 272.632264) scale(0.1 -0.1)">
<use href="#IPAGothic-31"/>
<use href="#IPAGothic-30" transform="translate(50 0)"/>
<use href="#IPAGothic-30" transform="translate(100 0)"/>
<use href="#IPAGothic-30" transform="translate(150 0)"/>
<use href="#IPAGothic-30" transform="translate(200 0)"/>
<use href="#IPAGothic-30" transform="translate(250 0)"/>
</g>
</g>
</g>
<g id="ytick_3">
<g id="line2d_61">
<path d="M 61.6010 220.6800
L 709.2230 220.6800
" clip-path="url(#pd91340e1de)" style="fill: none; stroke: #b0b0b0; stroke-width: 0.8; stroke-linecap: square"/>
</g>
<g id="line2d_62">
<g>
<use href="#mb258c49b38" x="62.2800" y="220.6800" style="stroke: #000000; stroke-width: 0.8"/>
</g>
</g>
<g id="text_32">
<!-- 150000 -->
<g transform="translate(24.02504 224.493971) scale(0.1 -0.1)">
<use href="#IPAGothic-31"/>
<use href="#IPAGothic-35" transform="translate(50 0)"/>
<use href="#IPAGothic-30" transform="translate(100 0)"/>
<use href="#IPAGothic-30" transform="translate(150 0)"/>
<use href="#IPAGothic-30" transform="translate(200 0)"/>
<use href="#IPAGothic-30" transform="translate(250 0)"/>
</g>
</g>
</g>
<g id="ytick_4">
<g id="line2d_63">
<path d="M 61.6010 172.4400
L 709.2230 172.4400
" clip-path="url(#pd91340e1de)" style="fill: none; stroke: #b0b0b0; stroke-width: 0.8; stroke-linecap: square"/>
</g>
<g id="line2d_64">
<g>
<use href="#mb258c49b38" x="62.2800" y="172.4400" style="stroke: #000000; stroke-width: 0.8"/>
</g>
</g>
<g id="text_33">
<!-- 200000 -->
<g transform="translate(24.02504 176.355678) scale(0.1 -0.1)">
<use href="#IPAGothic-32"/>
<use href="#IPAGothic-30" transform="translate(50 0)"/>
<use href="#IPAGothic-30" transform="translate(100 0)"/>
<use href="#IPAGothic-30" transform="translate(150 0)"/>
<use href="#IPAGothic-30" transform="translate(200 0)"/>
<use href="#IPAGothic-30" transform="translate(250 0)"/>
</g>
</g>
</g>
<g id="ytick_5">
<g id="line2d_65">
<path d="M 61.6010 124.2000
L 709.2230 124.2000
" clip-path="url(#pd91340e1de)" style="fill: none; stroke: #b0b0b0; stroke-width: 0.8; stroke-linecap: square"/>
</g>
<g id="line2d_66">
<g>
<use href="#mb258c49b38" x="62.2800" y="124.2000" style="stroke: #000000; stroke-width: 0.8"/>
</g>
</g>
<g id="text_34">
<!-- 250000 -->
<g transform="translate(24.02504 128.217385) scale(0.1 -0.1)">
<use href="#IPAGothic-32"/>
<use href="#IPAGothic-35" transform="translate(50 0)"/>
<use href="#IPAGothic-30" transform="translate(100 0)"/>
<use href="#IPAGothic-30" transform="translate(150 0)"/>
<use href="#IPAGothic-30" transform="translate(200 0)"/>
<use href="#IPAGothic-30" transform="translate(250 0)"/>
</g>
</g>
</g>
<g id="ytick_6">
<g id="line2d_67">
<path d="M 61.6010 75.9600
L 709.2230 75.9600
" clip-path="url(#pd91340e1de)" style="fill: none; stroke: #b0b0b0; stroke-width: 0.8; stroke-linecap: square"/>
</g>
<g id="line2d_68">
<g>
<use href="#mb258c49b38" x="62.2800" y="75.9600" style="stroke: #000000; stroke-width: 0.8"/>
</g>
</g>
<g id="text_35">
<!-- 300000 -->
<g transform="translate(24.02504 80.079092) scale(0.1 -0.1)">
<use href="#IPAGothic-33"/>
<use href="#IPAGothic-30" transform="translate(50 0)"/>
<use href="#IPAGothic-30" transform="translate(100 0)"/>
<use href="#IPAGothic-30" transform="translate(150 0)"/>
<use href="#IPAGothic-30" transform="translate(200 0)"/>
<use href="#IPAGothic-30" transform="translate(250 0)"/>
</g>
</g>
</g>
<g id="ytick_7">
<g id="line2d_69">
<path d="M 61.6010 27.7200
L 709.2230 27.7200
" clip-path="url(#pd91340e1de)" style="fill: none; stroke: #b0b0b0; stroke-width: 0.8; stroke-linecap: square"/>
</g>
<g id="line2d_70">
<g>
<use href="#mb258c49b38" x="62.2800" y="27.7200" style="stroke: #000000; stroke-width: 0.8"/>
</g>
</g>
<g id="text_36">
<!-- 350000 -->
<g transform="translate(24.02504 31.9408) scale(0.1 -0.1)">
<use href="#IPAGothic-33"/>
<use href="#IPAGothic-35" transform="translate(50 0)"/>
<use href="#IPAGothic-30" transform="translate(100 0)"/>
<use href="#IPAGothic-30" transform="translate(150 0)"/>
<use href="#IPAGothic-30" transform="translate(200 0)"/>
<use href="#IPAGothic-30" transform="translate(250 0)"/>
</g>
</g>
</g>
<g id="text_37">
<!-- 値 (円) -->
<g transform="translate(17.656915 210.8596) rotate(-90) scale(0.1 -0.1)">
<defs>
<path id="IPAGothic-5024" d="M 4172 3675
L 5453 3675
L 5453 684
L 3019 684
L 3019 3675
L 3747 3675
Q 3788 3884 3825 4153
L 2144 4153
L 2144 4544
L 3881 4544
Q 3922 4841 3966 5325
L 4434 5272
L 4391 4953
Q 4331 4578 4331 4544
L 5863 4544
L 5863 4153
L 4269 4153
Q 4200 3781 4172 3675
z
M 5038 3316
L 3434 3316
L 3434 2803
L 5038 2803
L 5038 3316
z
M 3434 2450
L 3434 1941
L 5038 1941
L 5038 2450
L 3434 2450
z
M 3434 1588
L 3434 1044
L 5038 1044
L 5038 1588
L 3434 1588
z
M 1509 3669
L 1509 -447
L 1069 -447
L 1069 2728
Q 856 2338 531 1875
L 288 2266
Q 1163 3534 1541 5325
L 1975 5225
Q 1791 4378 1509 3669
z
M 2488 244
L 6034 244
L 6034 -153
L 2488 -153
L 2488 -447
L 2059 -447
L 2059 3213
L 2488 3213
L 2488 244
z
" transform="scale(0.015625)"/>
<path id="IPAGothic-20" transform="scale(0.015625)"/>
<path id="IPAGothic-28" d="M 2219 -434
Q 997 769 997 2441
Q 997 4097 2219 5300
L 2719 5300
Q 1478 4078 1478 2425
Q 1478 788 2719 -434
L 2219 -434
z
" transform="scale(0.015625)"/>
<path id="IPAGothic-5186" d="M 5594 4806
L 5594 319
Q 5594 34 5491 -97
Q 5366 -269 4959 -269
Q 4469 -269 3897 -225
L 3809 275
Q 4384 206 4844 206
Q 5106 206 5106 434
L 5106 2119
L 1281 2119
L 1281 -359
L 794 -359
L 794 4806
L 5594 4806
z
M 1281 4366
L 1281 2547
L 2944 2547
L 2944 4366
L 1281 4366
z
M 5106 2547
L 5106 4366
L 3413 4366
L 3413 2547
L 5106 2547
z
" transform="scale(0.015625)"/>
<path id="IPAGothic-29" d="M 481 -434
Q 1722 788 1722 2434
Q 1722 4069 481 5300
L 981 5300
Q 2203 4097 2203 2434
Q 2203 769 981 -434
L 481 -434
z
" transform="scale(0.015625)"/>
</defs>
<use href="#IPAGothic-5024"/>
<use href="#IPAGothic-20" transform="translate(100 0)"/>
<use href="#IPAGothic-28" transform="translate(150 0)"/>
<use href="#IPAGothic-5186" transform="translate(200 0)"/>
<use href="#IPAGothic-29" transform="translate(300 0)"/>
</g>
</g>
</g>
<g id="line2d_71">
<path d="M 91.038404 338.222654
L 112.843858 338.222654
L 134.649313 338.222654
L 156.454767 338.222654
L 178.260222 338.222654
L 200.065676 338.222654
L 221.871131 338.222654
L 243.676585 338.222654
L 265.48204 165.502459
L 287.287495 165.21363
L 309.092949 164.63597
L 330.898404 222.401921
L 352.703858 280.071596
L 374.509313 338.222654
L 396.314767 338.829196
L 418.120222 339.445366
L 439.925676 340.051909
L 461.731131 340.658451
L 483.536585 341.274622
L 505.34204 341.881164
L 527.147495 313.720263
L 548.952949 285.559361
L 570.758404 257.39846
L 592.563858 229.237559
L 614.369313 201.076658
L 636.174767 172.915756
L 657.980222 144.754855
L 679.785676 116.593954
" clip-path="url(#pd91340e1de)" style="fill: none; stroke: #33cc66; stroke-width: 1.5; stroke-linecap: square"/>
<defs>
<path id="m3c72dea2d6" d="M 0 3
C 0.795609 3 1.55874 2.683901 2.12132 2.12132
C 2.683901 1.55874 3 0.795609 3 0
C 3 -0.795609 2.683901 -1.55874 2.12132 -2.12132
C 1.55874 -2.683901 0.795609 -3 0 -3
C -0.795609 -3 -1.55874 -2.683901 -2.12132 -2.12132
C -2.683901 -1.55874 -3 -0.795609 -3 0
C -3 0.795609 -2.683901 1.55874 -2.12132 2.12132
C -1.55874 2.683901 -0.795609 3 0 3
z
" style="stroke: #33cc66"/>
</defs>
<g clip-path="url(#pd91340e1de)">
<use href="#m3c72dea2d6" x="91.0800" y="338.7600" style="fill: #33cc66; stroke: #33cc66"/>
<use href="#m3c72dea2d6" x="113.4000" y="338.7600" style="fill: #33cc66; stroke: #33cc66"/>
<use href="#m3c72dea2d6" x="135.0000" y="338.7600" style="fill: #33cc66; stroke: #33cc66"/>
<use href="#m3c72dea2d6" x="156.6000" y="338.7600" style="fill: #33cc66; stroke: #33cc66"/>
<use href="#m3c72dea2d6" x="178.9200" y="338.7600" style="fill: #33cc66; stroke: #33cc66"/>
<use href="#m3c72dea2d6" x="200.5200" y="338.7600" style="fill: #33cc66; stroke: #33cc66"/>
<use href="#m3c72dea2d6" x="222.1200" y="338.7600" style="fill: #33cc66; stroke: #33cc66"/>
<use href="#m3c72dea2d6" x="243.7200" y="338.7600" style="fill: #33cc66; stroke: #33cc66"/>
<use href="#m3c72dea2d6" x="266.0400" y="165.9600" style="fill: #33cc66; stroke: #33cc66"/>
<use href="#m3c72dea2d6" x="287.6400" y="165.2400" style="fill: #33cc66; stroke: #33cc66"/>
<use href="#m3c72dea2d6" x="309.2400" y="165.2400" style="fill: #33cc66; stroke: #33cc66"/>
<use href="#m3c72dea2d6" x="331.5600" y="222.8400" style="fill: #33cc66; stroke: #33cc66"/>
<use href="#m3c72dea2d6" x="353.1600" y="280.4400" style="fill: #33cc66; stroke: #33cc66"/>
<use href="#m3c72dea2d6" x="374.7600" y="338.7600" style="fill: #33cc66; stroke: #33cc66"/>
<use href="#m3c72dea2d6" x="396.3600" y="339.4800" style="fill: #33cc66; stroke: #33cc66"/>
<use href="#m3c72dea2d6" x="418.6800" y="339.4800" style="fill: #33cc66; stroke: #33cc66"/>
<use href="#m3c72dea2d6" x="440.2800" y="340.2000" style="fill: #33cc66; stroke: #33cc66"/>
<use href="#m3c72dea2d6" x="461.8800" y="340.9200" style="fill: #33cc66; stroke: #33cc66"/>
<use href="#m3c72dea2d6" x="484.2000" y="341.6400" style="fill: #33cc66; stroke: #33cc66"/>
<use href="#m3c72dea2d6" x="505.8000" y="342.3600" style="fill: #33cc66; stroke: #33cc66"/>
<use href="#m3c72dea2d6" x="527.4000" y="314.2800" style="fill: #33cc66; stroke: #33cc66"/>
<use href="#m3c72dea2d6" x="549.0000" y="286.2000" style="fill: #33cc66; stroke: #33cc66"/>
<use href="#m3c72dea2d6" x="571.3200" y="257.4000" style="fill: #33cc66; stroke: #33cc66"/>
<use href="#m3c72dea2d6" x="592.9200" y="229.3200" style="fill: #33cc66; stroke: #33cc66"/>
<use href="#m3c72dea2d6" x="614.5200" y="201.2400" style="fill: #33cc66; stroke: #33cc66"/>
<use href="#m3c72dea2d6" x="636.8400" y="173.1600" style="fill: #33cc66; stroke: #33cc66"/>
<use href="#m3c72dea2d6" x="658.4400" y="145.0800" style="fill: #33cc66; stroke: #33cc66"/>
<use href="#m3c72dea2d6" x="680.0400" y="117.0000" style="fill: #33cc66; stroke: #33cc66"/>
</g>
</g>
<g id="line2d_72">
<path d="M 91.038404 337.53909
L 112.843858 337.53909
L 134.649313 337.53909
L 156.454767 337.53909
L 178.260222 337.53909
L 200.065676 337.53909
L 221.871131 337.53909
L 243.676585 337.53909
L 265.48204 116.593954
L 287.287495 116.593954
L 309.092949 116.593954
L 330.898404 190.245542
L 352.703858 263.415747
L 374.509313 337.53909
L 396.314767 338.184143
L 418.120222 338.829196
L 439.925676 339.474249
L 461.731131 340.109675
L 483.536585 340.754728
L 505.34204 341.399781
L 527.147495 313.296646
L 548.952949 285.19351
L 570.758404 257.100003
L 592.563858 228.996867
L 614.369313 200.893732
L 636.174767 172.790597
L 657.980222 144.697089
L 679.785676 116.593954
" clip-path="url(#pd91340e1de)" style="fill: none; stroke: #ffa500; stroke-width: 1.5; stroke-linecap: square"/>
<defs>
<path id="m2c136436b5" d="M 0 3
C 0.795609 3 1.55874 2.683901 2.12132 2.12132
C 2.683901 1.55874 3 0.795609 3 0
C 3 -0.795609 2.683901 -1.55874 2.12132 -2.12132
C 1.55874 -2.683901 0.795609 -3 0 -3
C -0.795609 -3 -1.55874 -2.683901 -2.12132 -2.12132
C -2.683901 -1.55874 -3 -0.795609 -3 0
C -3 0.795609 -2.683901 1.55874 -2.12132 2.12132
C -1.55874 2.683901 -0.795609 3 0 3
z
" style="stroke: #ffa500"/>
</defs>
<g clip-path="url(#pd91340e1de)">
<use href="#m2c136436b5" x="91.0800" y="338.0400" style="fill: #ffa500; stroke: #ffa500"/>
<use href="#m2c136436b5" x="113.4000" y="338.0400" style="fill: #ffa500; stroke: #ffa500"/>
<use href="#m2c136436b5" x="135.0000" y="338.0400" style="fill: #ffa500; stroke: #ffa500"/>
<use href="#m2c136436b5" x="156.6000" y="338.0400" style="fill: #ffa500; stroke: #ffa500"/>
<use href="#m2c136436b5" x="178.9200" y="338.0400" style="fill: #ffa500; stroke: #ffa500"/>
<use href="#m2c136436b5" x="200.5200" y="338.0400" style="fill: #ffa500; stroke: #ffa500"/>
<use href="#m2c136436b5" x="222.1200" y="338.0400" style="fill: #ffa500; stroke: #ffa500"/>
<use href="#m2c136436b5" x="243.7200" y="338.0400" style="fill: #ffa500; stroke: #ffa500"/>
<use href="#m2c136436b5" x="266.0400" y="117.0000" style="fill: #ffa500; stroke: #ffa500"/>
<use href="#m2c136436b5" x="287.6400" y="117.0000" style="fill: #ffa500; stroke: #ffa500"/>
<use href="#m2c136436b5" x="309.2400" y="117.0000" style="fill: #ffa500; stroke: #ffa500"/>
<use href="#m2c136436b5" x="331.5600" y="190.4400" style="fill: #ffa500; stroke: #ffa500"/>
<use href="#m2c136436b5" x="353.1600" y="263.8800" style="fill: #ffa500; stroke: #ffa500"/>
<use href="#m2c136436b5" x="374.7600" y="338.0400" style="fill: #ffa500; stroke: #ffa500"/>
<use href="#m2c136436b5" x="396.3600" y="338.7600" style="fill: #ffa500; stroke: #ffa500"/>
<use href="#m2c136436b5" x="418.6800" y="339.4800" style="fill: #ffa500; stroke: #ffa500"/>
<use href="#m2c136436b5" x="440.2800" y="339.4800" style="fill: #ffa500; stroke: #ffa500"/>
<use href="#m2c136436b5" x="461.8800" y="340.2000" style="fill: #ffa500; stroke: #ffa500"/>
<use href="#m2c136436b5" x="484.2000" y="340.9200" style="fill: #ffa500; stroke: #ffa500"/>
<use href="#m2c136436b5" x="505.8000" y="341.6400" style="fill: #ffa500; stroke: #ffa500"/>
<use href="#m2c136436b5" x="527.4000" y="313.5600" style="fill: #ffa500; stroke: #ffa500"/>
<use href="#m2c136436b5" x="549.0000" y="285.4800" style="fill: #ffa500; stroke: #ffa500"/>
<use href="#m2c136436b5" x="571.3200" y="257.4000" style="fill: #ffa500; stroke: #ffa500"/>
<use href="#m2c136436b5" x="592.9200" y="229.3200" style="fill: #ffa500; stroke: #ffa500"/>
<use href="#m2c136436b5" x="614.5200" y="201.2400" style="fill: #ffa500; stroke: #ffa500"/>
<use href="#m2c136436b5" x="636.8400" y="173.1600" style="fill: #ffa500; stroke: #ffa500"/>
<use href="#m2c136436b5" x="658.4400" y="145.0800" style="fill: #ffa500; stroke: #ffa500"/>
<use href="#m2c136436b5" x="680.0400" y="117.0000" style="fill: #ffa500; stroke: #ffa500"/>
</g>
</g>
<g id="line2d_73">
<path d="M 91.038404 332.927442
L 112.843858 332.927442
L 134.649313 332.927442
L 156.454767 332.927442
L 178.260222 332.927442
L 200.065676 332.927442
L 221.871131 332.927442
L 243.676585 332.927442
L 265.48204 41.9796
L 287.287495 41.9796
L 309.092949 41.9796
L 330.898404 138.930122
L 352.703858 235.880643
L 374.509313 332.927442
L 396.314767 334.179037
L 418.120222 335.430633
L 439.925676 336.682228
L 461.731131 337.933824
L 483.536585 339.18542
L 505.34204 340.437015
L 527.147495 312.457114
L 548.952949 284.47625
L 570.758404 256.496349
L 592.563858 228.515485
L 614.369313 200.535583
L 636.174767 172.554719
L 657.980222 144.574818
L 679.785676 116.593954
" clip-path="url(#pd91340e1de)" style="fill: none; stroke: #ff4b4b; stroke-width: 1.5; stroke-linecap: square"/>
<defs>
<path id="m0f08fa1ac6" d="M 0 3
C 0.795609 3 1.55874 2.683901 2.12132 2.12132
C 2.683901 1.55874 3 0.795609 3 0
C 3 -0.795609 2.683901 -1.55874 2.12132 -2.12132
C 1.55874 -2.683901 0.795609 -3 0 -3
C -0.795609 -3 -1.55874 -2.683901 -2.12132 -2.12132
C -2.683901 -1.55874 -3 -0.795609 -3 0
C -3 0.795609 -2.683901 1.55874 -2.12132 2.12132
C -1.55874 2.683901 -0.795609 3 0 3
z
" style="stroke: #ff4b4b"/>
</defs>
<g clip-path="url(#pd91340e1de)">
<use href="#m0f08fa1ac6" x="91.0800" y="333.0000" style="fill: #ff4b4b; stroke: #ff4b4b"/>
<use href="#m0f08fa1ac6" x="113.4000" y="333.0000" style="fill: #ff4b4b; stroke: #ff4b4b"/>
<use href="#m0f08fa1ac6" x="135.0000" y="333.0000" style="fill: #ff4b4b; stroke: #ff4b4b"/>
<use href="#m0f08fa1ac6" x="156.6000" y="333.0000" style="fill: #ff4b4b; stroke: #ff4b4b"/>
<use href="#m0f08fa1ac6" x="178.9200" y="333.0000" style="fill: #ff4b4b; stroke: #ff4b4b"/>
<use href="#m0f08fa1ac6" x="200.5200" y="333.0000" style="fill: #ff4b4b; stroke: #ff4b4b"/>
<use href="#m0f08fa1ac6" x="222.1200" y="333.0000" style="fill: #ff4b4b; stroke: #ff4b4b"/>
<use href="#m0f08fa1ac6" x="243.7200" y="333.0000" style="fill: #ff4b4b; stroke: #ff4b4b"/>
<use href="#m0f08fa1ac6" x="266.0400" y="42.1200" style="fill: #ff4b4b; stroke: #ff4b4b"/>
<use href="#m0f08fa1ac6" x="287.6400" y="42.1200" style="fill: #ff4b4b; stroke: #ff4b4b"/>
<use href="#m0f08fa1ac6" x="309.2400" y="42.1200" style="fill: #ff4b4b; stroke: #ff4b4b"/>
<use href="#m0f08fa1ac6" x="331.5600" y="139.3200" style="fill: #ff4b4b; stroke: #ff4b4b"/>
<use href="#m0f08fa1ac6" x="353.1600" y="236.5200" style="fill: #ff4b4b; stroke: #ff4b4b"/>
<use href="#m0f08fa1ac6" x="374.7600" y="333.0000" style="fill: #ff4b4b; stroke: #ff4b4b"/>
<use href="#m0f08fa1ac6" x="396.3600" y="334.4400" style="fill: #ff4b4b; stroke: #ff4b4b"/>
<use href="#m0f08fa1ac6" x="418.6800" y="335.8800" style="fill: #ff4b4b; stroke: #ff4b4b"/>
<use href="#m0f08fa1ac6" x="440.2800" y="337.3200" style="fill: #ff4b4b; stroke: #ff4b4b"/>
<use href="#m0f08fa1ac6" x="461.8800" y="338.0400" style="fill: #ff4b4b; stroke: #ff4b4b"/>
<use href="#m0f08fa1ac6" x="484.2000" y="339.4800" style="fill: #ff4b4b; stroke: #ff4b4b"/>
<use href="#m0f08fa1ac6" x="505.8000" y="340.9200" style="fill: #ff4b4b; stroke: #ff4b4b"/>
<use href="#m0f08fa1ac6" x="527.4000" y="312.8400" style="fill: #ff4b4b; stroke: #ff4b4b"/>
<use href="#m0f08fa1ac6" x="549.0000" y="284.7600" style="fill: #ff4b4b; stroke: #ff4b4b"/>
<use href="#m0f08fa1ac6" x="571.3200" y="256.6800" style="fill: #ff4b4b; stroke: #ff4b4b"/>
<use href="#m0f08fa1ac6" x="592.9200" y="228.6000" style="fill: #ff4b4b; stroke: #ff4b4b"/>
<use href="#m0f08fa1ac6" x="614.5200" y="201.2400" style="fill: #ff4b4b; stroke: #ff4b4b"/>
<use href="#m0f08fa1ac6" x="636.8400" y="173.1600" style="fill: #ff4b4b; stroke: #ff4b4b"/>
<use href="#m0f08fa1ac6" x="658.4400" y="145.0800" style="fill: #ff4b4b; stroke: #ff4b4b"/>
<use href="#m0f08fa1ac6" x="680.0400" y="117.0000" style="fill: #ff4b4b; stroke: #ff4b4b"/>
</g>
</g>
<g id="line2d_74">
<path d="M 91.038404 343.7316
L 112.843858 343.7316
L 134.649313 343.7316
L 156.454767 343.7316
L 178.260222 343.7316
L 200.065676 343.7316
L 221.871131 343.7316
L 243.676585 343.7316
L 265.48204 343.7316
L 287.287495 343.7316
L 309.092949 343.7316
L 330.898404 343.7316
L 352.703858 343.7316
L 374.509313 343.7316
L 396.314767 343.7316
L 418.120222 343.7316
L 439.925676 343.7316
L 461.731131 343.7316
L 483.536585 343.7316
L 505.34204 343.7316
L 527.147495 315.339635
L 548.952949 286.946707
L 570.758404 258.553779
L 592.563858 230.160851
L 614.369313 201.768886
L 636.174767 173.375958
L 657.980222 144.983031
L 679.785676 116.593954
" clip-path="url(#pd91340e1de)" style="fill: none; stroke: #4a9bff; stroke-width: 1.5; stroke-linecap: square"/>
<defs>
<path id="m0b349b2abe" d="M 0 3
C 0.795609 3 1.55874 2.683901 2.12132 2.12132
C 2.683901 1.55874 3 0.795609 3 0
C 3 -0.795609 2.683901 -1.55874 2.12132 -2.12132
C 1.55874 -2.683901 0.795609 -3 0 -3
C -0.795609 -3 -1.55874 -2.683901 -2.12132 -2.12132
C -2.683901 -1.55874 -3 -0.795609 -3 0
C -3 0.795609 -2.683901 1.55874 -2.12132 2.12132
C -1.55874 2.683901 -0.795609 3 0 3
z
" style="stroke: #4a9bff"/>
</defs>
<g clip-path="url(#pd91340e1de)">
<use href="#m0b349b2abe" x="91.0800" y="343.8000" style="fill: #4a9bff; stroke: #4a9bff"/>
<use href="#m0b349b2abe" x="113.4000" y="343.8000" style="fill: #4a9bff; stroke: #4a9bff"/>
<use href="#m0b349b2abe" x="135.0000" y="343.8000" style="fill: #4a9bff; stroke: #4a9bff"/>
<use href="#m0b349b2abe" x="156.6000" y="343.8000" style="fill: #4a9bff; stroke: #4a9bff"/>
<use href="#m0b349b2abe" x="178.9200" y="343.8000" style="fill: #4a9bff; stroke: #4a9bff"/>
<use href="#m0b349b2abe" x="200.5200" y="343.8000" style="fill: #4a9bff; stroke: #4a9bff"/>
<use href="#m0b349b2abe" x="222.1200" y="343.8000" style="fill: #4a9bff; stroke: #4a9bff"/>
<use href="#m0b349b2abe" x="243.7200" y="343.8000" style="fill: #4a9bff; stroke: #4a9bff"/>
<use href="#m0b349b2abe" x="266.0400" y="343.8000" style="fill: #4a9bff; stroke: #4a9bff"/>
<use href="#m0b349b2abe" x="287.6400" y="343.8000" style="fill: #4a9bff; stroke: #4a9bff"/>
<use href="#m0b349b2abe" x="309.2400" y="343.8000" style="fill: #4a9bff; stroke: #4a9bff"/>
<use href="#m0b349b2abe" x="331.5600" y="343.8000" style="fill: #4a9bff; stroke: #4a9bff"/>
<use href="#m0b349b2abe" x="353.1600" y="343.8000" style="fill: #4a9bff; stroke: #4a9bff"/>
<use href="#m0b349b2abe" x="374.7600" y="343.8000" style="fill: #4a9bff; stroke: #4a9bff"/>
<use href="#m0b349b2abe" x="396.3600" y="343.8000" style="fill: #4a9bff; stroke: #4a9bff"/>
<use href="#m0b349b2abe" x="418.6800" y="343.8000" style="fill: #4a9bff; stroke: #4a9bff"/>
<use href="#m0b349b2abe" x="440.2800" y="343.8000" style="fill: #4a9bff; stroke: #4a9bff"/>
<use href="#m0b349b2abe" x="461.8800" y="343.8000" style="fill: #4a9bff; stroke: #4a9bff"/>
<use href="#m0b349b2abe" x="484.2000" y="343.8000" style="fill: #4a9bff; stroke: #4a9bff"/>
<use href="#m0b349b2abe" x="505.8000" y="343.8000" style="fill: #4a9bff; stroke: #4a9bff"/>
<use href="#m0b349b2abe" x="527.4000" y="315.7200" style="fill: #4a9bff; stroke: #4a9bff"/>
<use href="#m0b349b2abe" x="549.0000" y="287.6400" style="fill: #4a9bff; stroke: #4a9bff"/>
<use href="#m0b349b2abe" x="571.3200" y="258.8400" style="fill: #4a9bff; stroke: #4a9bff"/>
<use href="#m0b349b2abe" x="592.9200" y="230.7600" style="fill: #4a9bff; stroke: #4a9bff"/>
<use href="#m0b349b2abe" x="614.5200" y="201.9600" style="fill: #4a9bff; stroke: #4a9bff"/>
<use href="#m0b349b2abe" x="636.8400" y="173.8800" style="fill: #4a9bff; stroke: #4a9bff"/>
<use href="#m0b349b2abe" x="658.4400" y="145.0800" style="fill: #4a9bff; stroke: #4a9bff"/>
<use href="#m0b349b2abe" x="680.0400" y="117.0000" style="fill: #4a9bff; stroke: #4a9bff"/>
</g>
</g>
<g id="patch_3">
<path d="M 62.2800 358.8192
L 62.2800 26.8920
" style="fill: none; stroke: #000000; stroke-width: 0.8; stroke-linejoin: miter; stroke-linecap: square"/>
</g>
<g id="patch_4">
<path d="M 709.5600 358.8192
L 709.5600 26.8920
" style="fill: none; stroke: #000000; stroke-width: 0.8; stroke-linejoin: miter; stroke-linecap: square"/>
</g>
<g id="patch_5">
<path d="M 61.6010 358.9200
L 709.2230 358.9200
" style="fill: none; stroke: #000000; stroke-width: 0.8; stroke-linejoin: miter; stroke-linecap: square"/>
</g>
<g id="patch_6">
<path d="M 61.6010 27.0000
L 709.2230 27.0000
" style="fill: none; stroke: #000000; stroke-width: 0.8; stroke-linejoin: miter; stroke-linecap: square"/>
</g>
<g id="text_38">
<!-- カオス・ソルジャー/304/UL 価格推移(過去30日間) -->
<g transform="translate(247.41204 21.972) scale(0.12 -0.12)">
<defs>
<path id="IPAGothic-30ab" d="M 2734 4978
L 3247 4978
L 3247 3694
L 5250 3694
L 5250 3491
L 5250 3425
Q 5250 1334 5019 500
Q 4856 -84 4297 -84
Q 3788 -84 3247 172
L 3228 731
Q 3859 441 4200 441
Q 4484 441 4553 763
Q 4709 1478 4738 3234
L 3209 3234
Q 3025 906 1159 -134
L 769 263
Q 2519 1134 2703 3209
L 916 3209
L 916 3669
L 2734 3669
L 2734 4978
z
" transform="scale(0.015625)"/>
<path id="IPAGothic-30aa" d="M 3538 4997
L 4038 4997
L 4038 3719
L 5563 3719
L 5563 3266
L 4072 3266
L 4072 397
Q 4072 -147 3434 -147
Q 3006 -147 2547 -72
L 2438 459
Q 2969 359 3306 359
Q 3572 359 3572 613
L 3572 2969
Q 2684 1263 878 422
L 519 831
Q 2234 1531 3244 3213
L 763 3213
L 763 3659
L 3538 3659
L 3538 4997
z
" transform="scale(0.015625)"/>
<path id="IPAGothic-30b9" d="M 4359 4481
L 4716 4147
Q 4328 3072 3647 2150
Q 4659 1434 5659 453
L 5234 19
Q 4256 1088 3353 1778
Q 3316 1722 3291 1697
Q 3288 1694 3281 1691
Q 3266 1678 3259 1663
Q 2284 553 1044 -31
L 653 403
Q 3128 1453 4097 4000
L 1241 3963
L 1228 4453
L 4359 4481
z
" transform="scale(0.015625)"/>
<path id="IPAGothic-30fb" d="M 2772 2859
L 3628 2859
L 3628 2003
L 2772 2003
L 2772 2859
z
" transform="scale(0.015625)"/>
<path id="IPAGothic-30bd" d="M 1863 2578
Q 1469 3528 1038 4213
L 1550 4459
Q 1972 3809 2394 2869
L 1863 2578
z
M 1728 300
Q 4272 1347 4800 4531
L 5356 4372
Q 4725 1072 2119 -141
L 1728 300
z
" transform="scale(0.015625)"/>
<path id="IPAGothic-30eb" d="M 353 331
Q 1313 994 1544 2022
Q 1684 2650 1684 4397
L 2203 4397
L 2203 4153
L 2203 4116
Q 2203 2259 1934 1491
Q 1619 588 744 -38
L 353 331
z
M 3125 4666
L 3650 4666
L 3650 769
Q 4875 1488 5672 2731
L 5997 2278
Q 5075 966 3516 63
L 3125 359
L 3125 4666
z
" transform="scale(0.015625)"/>
<path id="IPAGothic-30b8" d="M 2759 3525
Q 2150 4050 1544 4353
L 1844 4775
Q 2434 4484 3100 3975
L 2759 3525
z
M 1094 494
Q 3875 1088 5269 3519
L 5619 3122
Q 4228 694 1416 -6
L 1094 494
z
M 4947 3794
Q 4709 4294 4341 4691
L 4691 4922
Q 5038 4584 5325 4056
L 4947 3794
z
M 2003 2272
Q 1397 2791 763 3103
L 1063 3531
Q 1738 3206 2338 2719
L 2003 2272
z
M 5606 4213
Q 5341 4716 4988 5088
L 5344 5306
Q 5678 4981 5991 4459
L 5606 4213
z
" transform="scale(0.015625)"/>
<path id="IPAGothic-30e3" d="M 2559 3903
L 2803 2816
L 4863 3169
L 5191 2894
Q 4672 1875 4103 1203
L 3666 1447
Q 4175 2013 4525 2688
L 2900 2388
L 3450 -116
L 2969 -231
L 2419 2297
L 1172 2069
L 1075 2516
L 2328 2731
L 2094 3809
L 2559 3903
z
" transform="scale(0.015625)"/>
<path id="IPAGothic-30fc" d="M 588 2688
L 5809 2688
L 5809 2175
L 588 2175
L 588 2688
z
" transform="scale(0.015625)"/>
<path id="IPAGothic-2f" d="M 2750 5259
L 3006 5147
L 441 -403
L 184 -288
L 2750 5259
z
" transform="scale(0.015625)"/>
<path id="IPAGothic-55" d="M 372 4806
L 884 4806
L 884 1697
Q 884 678 1600 678
Q 2316 678 2316 1697
L 2316 4806
L 2828 4806
L 2828 1697
Q 2828 1053 2566 666
Q 2250 197 1600 197
Q 372 197 372 1697
L 372 4806
z
" transform="scale(0.015625)"/>
<path id="IPAGothic-4c" d="M 447 4806
L 984 4806
L 984 838
L 2872 838
L 2872 325
L 447 325
L 447 4806
z
" transform="scale(0.015625)"/>
<path id="IPAGothic-4fa1" d="M 3144 3397
L 3144 4416
L 1831 4416
L 1831 4825
L 6081 4825
L 6081 4416
L 4713 4416
L 4713 3397
L 5850 3397
L 5850 -384
L 5416 -384
L 5416 0
L 2463 0
L 2463 -384
L 2034 -384
L 2034 3397
L 3144 3397
z
M 3572 3397
L 4281 3397
L 4281 4416
L 3572 4416
L 3572 3397
z
M 3169 3013
L 2463 3013
L 2463 391
L 3169 391
L 3169 3013
z
M 3572 3013
L 3572 391
L 4281 391
L 4281 3013
L 3572 3013
z
M 4684 3013
L 4684 391
L 5416 391
L 5416 3013
L 4684 3013
z
M 1394 3816
L 1394 -447
L 966 -447
L 966 2797
Q 756 2369 478 1972
L 244 2369
Q 950 3472 1375 5313
L 1809 5203
Q 1588 4344 1394 3816
z
" transform="scale(0.015625)"/>
<path id="IPAGothic-683c" d="M 1281 2650
Q 978 1569 500 806
L 231 1269
Q 866 2141 1231 3584
L 366 3584
L 366 3988
L 1281 3988
L 1281 5306
L 1716 5306
L 1716 3988
L 2534 3988
L 2534 3584
L 1716 3584
L 1716 3072
Q 2163 2719 2572 2331
L 2328 1953
Q 2059 2291 1716 2625
L 1716 -447
L 1281 -447
L 1281 2650
z
M 2938 1747
Q 2716 1613 2516 1509
L 2247 1841
Q 3244 2341 3963 3078
Q 3669 3369 3353 3841
Q 3028 3344 2638 2969
L 2356 3281
Q 3213 4131 3538 5300
L 3956 5184
Q 3834 4813 3834 4806
L 5250 4806
L 5478 4606
Q 5016 3650 4531 3091
Q 5238 2509 6131 2144
L 5838 1731
Q 5766 1766 5516 1900
L 5459 1931
L 5459 -447
L 5019 -447
L 5019 -128
L 3378 -128
L 3378 -447
L 2938 -447
L 2938 1747
z
M 3225 1931
L 5459 1931
Q 5416 1959 5325 2009
Q 4738 2344 4263 2781
Q 3906 2400 3225 1931
z
M 5019 1547
L 3378 1547
L 3378 263
L 5019 263
L 5019 1547
z
M 3672 4422
Q 3625 4331 3556 4184
Q 3825 3781 4225 3372
Q 4588 3809 4903 4422
L 3672 4422
z
" transform="scale(0.015625)"/>
<path id="IPAGothic-63a8" d="M 3244 4063
L 4244 4063
Q 4484 4581 4653 5228
L 5125 5100
Q 4913 4484 4691 4063
L 5906 4063
L 5906 3666
L 4647 3666
L 4647 2822
L 5747 2822
L 5747 2438
L 4647 2438
L 4647 1594
L 5747 1594
L 5747 1216
L 4647 1216
L 4647 319
L 6047 319
L 6047 -91
L 3244 -91
L 3244 -481
L 2816 -481
L 2816 3188
L 2791 3128
Q 2581 2744 2366 2463
L 2084 2797
Q 2813 3728 3166 5284
L 3616 5144
Q 3428 4494 3244 4063
z
M 3244 319
L 4231 319
L 4231 1216
L 3244 1216
L 3244 319
z
M 3244 1594
L 4231 1594
L 4231 2438
L 3244 2438
L 3244 1594
z
M 3244 2822
L 4231 2822
L 4231 3666
L 3244 3666
L 3244 2822
z
M 1184 4084
L 1184 5313
L 1613 5313
L 1613 4084
L 2328 4084
L 2328 3669
L 1613 3669
L 1613 2241
Q 1997 2341 2334 2453
L 2359 2069
Q 1809 1884 1631 1831
L 1613 1825
L 1613 44
Q 1613 -194 1522 -294
Q 1413 -403 1081 -403
Q 738 -403 519 -366
L 441 97
Q 741 38 978 38
Q 1184 38 1184 219
L 1184 1703
L 1144 1697
Q 738 1584 409 1509
L 275 1941
Q 722 2022 1138 2119
Q 1147 2122 1166 2125
Q 1175 2128 1184 2131
L 1184 3669
L 372 3669
L 372 4084
L 1184 4084
z
" transform="scale(0.015625)"/>
<path id="IPAGothic-79fb" d="M 4691 2419
L 5844 2419
L 6066 2188
Q 5503 1156 4759 513
Q 4078 -75 2975 -469
L 2681 -97
Q 3684 194 4384 728
Q 4094 1056 3731 1356
Q 3381 1053 2919 819
L 2669 1150
Q 3853 1772 4500 2878
L 4909 2772
Q 4772 2528 4691 2419
z
M 4409 2034
Q 4216 1803 4000 1588
Q 4375 1341 4703 1009
Q 5219 1488 5497 2034
L 4409 2034
z
M 1350 2328
Q 1009 1334 513 659
L 263 1081
Q 966 2022 1266 3128
L 366 3128
L 366 3531
L 1350 3531
L 1350 4400
Q 919 4322 575 4266
L 366 4644
Q 1506 4806 2381 5144
L 2700 4747
Q 2241 4600 1784 4491
L 1784 3531
L 2619 3531
L 2619 3128
L 1784 3128
L 1784 2688
Q 2303 2266 2722 1803
L 2444 1356
Q 2103 1841 1784 2181
L 1784 -447
L 1350 -447
L 1350 2328
z
M 4275 4800
L 5491 4800
L 5709 4609
Q 4759 2809 2872 2047
L 2603 2388
Q 3534 2722 4134 3244
Q 3869 3519 3450 3794
Q 3184 3569 2859 3359
L 2591 3666
Q 3578 4259 4056 5288
L 4478 5191
Q 4403 5034 4275 4800
z
M 4019 4416
Q 3856 4194 3700 4038
Q 4128 3759 4372 3553
L 4416 3513
Q 4884 3991 5119 4416
L 4019 4416
z
" transform="scale(0.015625)"/>
<path id="IPAGothic-904e" d="M 1703 741
Q 1975 363 2503 209
Q 2906 94 3931 94
Q 4897 94 6131 178
Q 6025 -59 5978 -300
Q 4931 -341 4384 -341
Q 2819 -341 2234 -128
Q 1763 44 1525 397
Q 1113 -81 653 -447
L 372 19
Q 900 341 1269 672
L 1269 2303
L 378 2303
L 378 2731
L 1703 2731
L 1703 741
z
M 5338 2778
L 2594 2778
L 2594 428
L 2178 428
L 2178 3138
L 2594 3138
L 2594 5025
L 5338 5025
L 5338 3138
L 5753 3138
L 5753 875
Q 5753 597 5638 513
Q 5547 441 5313 441
Q 5019 441 4713 478
L 4659 903
Q 4956 850 5184 850
Q 5338 850 5338 1016
L 5338 2778
z
M 4934 3138
L 4934 3784
L 4041 3784
L 4041 3138
L 4934 3138
z
M 3663 3138
L 3663 4116
L 4934 4116
L 4934 4666
L 3003 4666
L 3003 3138
L 3663 3138
z
M 4750 2350
L 4750 1113
L 3469 1113
L 3469 781
L 3091 781
L 3091 2350
L 4750 2350
z
M 3469 2019
L 3469 1453
L 4372 1453
L 4372 2019
L 3469 2019
z
M 1525 3775
Q 1053 4353 563 4738
L 878 5056
Q 1497 4566 1869 4122
L 1525 3775
z
" transform="scale(0.015625)"/>
<path id="IPAGothic-53bb" d="M 3009 2169
Q 3003 2150 2988 2131
Q 2634 1163 2144 344
L 2375 363
Q 3003 400 3963 497
L 4697 575
Q 4322 1025 3909 1419
L 4281 1650
Q 5041 956 5834 -34
L 5431 -347
Q 5347 -234 5200 -47
Q 5038 163 4991 222
Q 3384 -22 959 -213
L 800 269
Q 888 272 1153 288
Q 1428 303 1606 313
L 1656 403
Q 2147 1250 2491 2169
L 447 2169
L 447 2584
L 2931 2584
L 2931 3744
L 959 3744
L 959 4159
L 2931 4159
L 2931 5216
L 3419 5216
L 3419 4159
L 5438 4159
L 5438 3744
L 3419 3744
L 3419 2584
L 5950 2584
L 5950 2169
L 3009 2169
z
" transform="scale(0.015625)"/>
<path id="IPAGothic-9593" d="M 4450 2566
L 4450 353
L 2375 353
L 2375 -25
L 1953 -25
L 1953 2566
L 4450 2566
z
M 4028 2200
L 2375 2200
L 2375 1653
L 4028 1653
L 4028 2200
z
M 4028 1300
L 2375 1300
L 2375 719
L 4028 719
L 4028 1300
z
M 2913 5019
L 2913 3059
L 1056 3059
L 1056 -447
L 609 -447
L 609 5019
L 2913 5019
z
M 1056 4659
L 1056 4206
L 2497 4206
L 2497 4659
L 1056 4659
z
M 1056 3881
L 1056 3413
L 2497 3413
L 2497 3881
L 1056 3881
z
M 5788 5019
L 5788 91
Q 5788 -225 5641 -331
Q 5525 -409 5231 -409
Q 4800 -409 4481 -366
L 4419 97
Q 4853 38 5128 38
Q 5341 38 5341 244
L 5341 3059
L 3438 3059
L 3438 5019
L 5788 5019
z
M 3853 4659
L 3853 4206
L 5341 4206
L 5341 4659
L 3853 4659
z
M 3853 3881
L 3853 3413
L 5341 3413
L 5341 3881
L 3853 3881
z
" transform="scale(0.015625)"/>
</defs>
<use href="#IPAGothic-30ab"/>
<use href="#IPAGothic-30aa" transform="translate(100 0)"/>
<use href="#IPAGothic-30b9" transform="translate(200 0)"/>
<use href="#IPAGothic-30fb" transform="translate(300 0)"/>
<use href="#IPAGothic-30bd" transform="translate(400 0)"/>
<use href="#IPAGothic-30eb" transform="translate(500 0)"/>
<use href="#IPAGothic-30b8" transform="translate(600 0)"/>
<use href="#IPAGothic-30e3" transform="translate(700 0)"/>
<use href="#IPAGothic-30fc" transform="translate(800 0)"/>
<use href="#IPAGothic-2f" transform="translate(900 0)"/>
<use href="#IPAGothic-33" transform="translate(950 0)"/>
<use href="#IPAGothic-30" transform="translate(1000 0)"/>
<use href="#IPAGothic-34" transform="translate(1050 0)"/>
<use href="#IPAGothic-2f" transform="translate(1100 0)"/>
<use href="#IPAGothic-55" transform="translate(1150 0)"/>
<use href="#IPAGothic-4c" transform="translate(1200 0)"/>
<use href="#IPAGothic-20" transform="translate(1250 0)"/>
<use href="#IPAGothic-4fa1" transform="translate(1300 0)"/>
<use href="#IPAGothic-683c" transform="translate(1400 0)"/>
<use href="#IPAGothic-63a8" transform="translate(1500 0)"/>
<use href="#IPAGothic-79fb" transform="translate(1600 0)"/>
<use href="#IPAGothic-28" transform="translate(1700 0)"/>
<use href="#IPAGothic-904e" transform="translate(1750 0)"/>
<use href="#IPAGothic-53bb" transform="translate(1850 0)"/>
<use href="#IPAGothic-33" transform="translate(1950 0)"/>
<use href="#IPAGothic-30" transform="translate(2000 0)"/>
<use href="#IPAGothic-65e5" transform="translate(2050 0)"/>
<use href="#IPAGothic-9593" transform="translate(2150 0)"/>
<use href="#IPAGothic-29" transform="translate(2250 0)"/>
</g>
</g>
<g id="legend_1">
<g id="patch_7">
<path d="M 640.22304 92.138875
L 702.22304 92.138875
Q 704.22304 92.138875 704.22304 90.138875
L 704.22304 33.892
Q 704.22304 31.892 702.22304 31.892
L 640.22304 31.892
Q 638.22304 31.892 638.22304 33.892
L 638.22304 90.138875
Q 638.22304 92.138875 640.22304 92.138875
z
" style="fill: #ffffff; opacity: 0.8; stroke: #cccccc; stroke-linejoin: miter"/>
</g>
<g id="line2d_75">
<path d="M 642.22304 40.482625
L 652.22304 40.482625
L 662.22304 40.482625
" style="fill: none; stroke: #33cc66; stroke-width: 1.5; stroke-linecap: square"/>
<g>
<use href="#m3c72dea2d6" x="652.6800" y="40.6800" style="fill: #33cc66; stroke: #33cc66"/>
</g>
</g>
<g id="text_39">
<!-- 平均値 -->
<g transform="translate(669.93504 43.982625) scale(0.1 -0.1)">
<defs>
<path id="IPAGothic-5e73" d="M 3419 4428
L 3419 1941
L 6078 1941
L 6078 1513
L 3419 1513
L 3419 -447
L 2931 -447
L 2931 1513
L 319 1513
L 319 1941
L 2931 1941
L 2931 4428
L 638 4428
L 638 4856
L 5759 4856
L 5759 4428
L 3419 4428
z
M 1728 2278
Q 1488 3094 1081 3859
L 1541 4038
Q 1872 3422 2219 2472
L 1728 2278
z
M 4134 2425
Q 4506 3138 4813 4128
L 5303 3944
Q 4984 3006 4569 2228
L 4134 2425
z
" transform="scale(0.015625)"/>
<path id="IPAGothic-5747" d="M 1206 3794
L 1206 5147
L 1659 5147
L 1659 3794
L 2369 3794
L 2369 3372
L 1659 3372
L 1659 1325
Q 2081 1516 2481 1722
L 2566 1313
Q 1556 778 559 397
L 334 838
Q 803 975 1206 1138
L 1206 3372
L 413 3372
L 413 3794
L 1206 3794
z
M 3475 4244
L 5844 4244
Q 5834 1131 5619 184
Q 5494 -366 4838 -366
Q 4369 -366 3859 -306
L 3769 184
Q 4241 88 4731 88
Q 5059 88 5147 306
Q 5359 919 5369 3828
L 3316 3828
Q 3013 3119 2466 2472
L 2150 2828
Q 2944 3788 3259 5263
L 3719 5147
Q 3619 4663 3475 4244
z
M 2978 2847
L 4681 2847
L 4681 2431
L 2978 2431
L 2978 2847
z
M 2559 1044
Q 3747 1338 4838 1797
L 4891 1388
Q 3831 891 2766 588
L 2559 1044
z
" transform="scale(0.015625)"/>
</defs>
<use href="#IPAGothic-5e73"/>
<use href="#IPAGothic-5747" transform="translate(100 0)"/>
<use href="#IPAGothic-5024" transform="translate(200 0)"/>
</g>
</g>
<g id="line2d_76">
<path d="M 642.22304 54.801375
L 652.22304 54.801375
L 662.22304 54.801375
" style="fill: none; stroke: #ffa500; stroke-width: 1.5; stroke-linecap: square"/>
<g>
<use href="#m2c136436b5" x="652.6800" y="55.0800" style="fill: #ffa500; stroke: #ffa500"/>
</g>
</g>
<g id="text_40">
<!-- 中央値 -->
<g transform="translate(669.93504 58.301375) scale(0.1 -0.1)">
<defs>
<path id="IPAGothic-4e2d" d="M 2925 3950
L 2925 5209
L 3425 5209
L 3425 3950
L 5613 3950
L 5613 1125
L 5125 1125
L 5125 1594
L 3425 1594
L 3425 -447
L 2925 -447
L 2925 1594
L 1263 1594
L 1263 1094
L 775 1094
L 775 3950
L 2925 3950
z
M 1263 3534
L 1263 2009
L 2925 2009
L 2925 3534
L 1263 3534
z
M 5125 2009
L 5125 3534
L 3425 3534
L 3425 2009
L 5125 2009
z
" transform="scale(0.015625)"/>
<path id="IPAGothic-592e" d="M 3578 1947
Q 4238 694 5972 134
L 5634 -294
Q 3847 378 3253 1750
Q 2916 216 809 -403
L 506 16
Q 2547 475 2894 1947
L 353 1947
L 353 2363
L 1256 2363
L 1256 4178
L 2938 4178
L 2938 5216
L 3413 5216
L 3413 4178
L 5141 4178
L 5141 2363
L 6044 2363
L 6044 1947
L 3578 1947
z
M 2938 3763
L 1703 3763
L 1703 2363
L 2938 2363
L 2938 3763
z
M 3413 3763
L 3413 2363
L 4688 2363
L 4688 3763
L 3413 3763
z
" transform="scale(0.015625)"/>
</defs>
<use href="#IPAGothic-4e2d"/>
<use href="#IPAGothic-592e" transform="translate(100 0)"/>
<use href="#IPAGothic-5024" transform="translate(200 0)"/>
</g>
</g>
<g id="line2d_77">
<path d="M 642.22304 69.256062
L 652.22304 69.256062
L 662.22304 69.256062
" style="fill: none; stroke: #ff4b4b; stroke-width: 1.5; stroke-linecap: square"/>
<g>
<use href="#m0f08fa1ac6" x="652.6800" y="69.4800" style="fill: #ff4b4b; stroke: #ff4b4b"/>
</g>
</g>
<g id="text_41">
<!-- 最高値 -->
<g transform="translate(669.93504 72.756062) scale(0.1 -0.1)">
<defs>
<path id="IPAGothic-6700" d="M 5106 5050
L 5106 3275
L 1288 3275
L 1288 5050
L 5106 5050
z
M 1741 4697
L 1741 4331
L 4659 4331
L 4659 4697
L 1741 4697
z
M 1741 4000
L 1741 3622
L 4659 3622
L 4659 4000
L 1741 4000
z
M 2925 2528
L 2925 -447
L 2503 -447
L 2503 231
Q 1875 97 525 -75
L 409 359
Q 491 363 609 372
Q 728 381 756 384
L 994 403
L 994 2528
L 384 2528
L 384 2900
L 6016 2900
L 6016 2528
L 2925 2528
z
M 2503 2528
L 1403 2528
L 1403 2088
L 2503 2088
L 2503 2528
z
M 2503 1763
L 1403 1763
L 1403 1309
L 2503 1309
L 2503 1763
z
M 2503 984
L 1403 984
L 1403 434
L 1763 472
Q 2159 500 2503 550
L 2503 984
z
M 4844 588
Q 5350 225 6047 -9
L 5753 -419
Q 5066 -128 4556 288
Q 4000 -241 3281 -534
L 3006 -163
Q 3738 84 4263 563
Q 3722 1141 3463 1803
L 3084 1803
L 3084 2169
L 5428 2169
L 5656 1963
Q 5328 1178 4881 638
L 4844 588
z
M 4538 850
Q 4884 1275 5119 1803
L 3872 1803
Q 4113 1275 4538 850
z
" transform="scale(0.015625)"/>
<path id="IPAGothic-9ad8" d="M 4481 1588
L 4481 366
L 2319 366
L 2319 0
L 1891 0
L 1891 1588
L 4481 1588
z
M 4053 1247
L 2319 1247
L 2319 706
L 4053 706
L 4053 1247
z
M 3419 4641
L 5916 4641
L 5916 4263
L 481 4263
L 481 4641
L 2938 4641
L 2938 5313
L 3419 5313
L 3419 4641
z
M 4884 3878
L 4884 2694
L 1513 2694
L 1513 3878
L 4884 3878
z
M 1959 3531
L 1959 3041
L 4438 3041
L 4438 3531
L 1959 3531
z
M 5684 2309
L 5684 103
Q 5684 -378 5091 -378
Q 4703 -378 4316 -350
L 4253 109
Q 4706 44 5006 44
Q 5231 44 5231 250
L 5231 1944
L 1166 1944
L 1166 -447
L 713 -447
L 713 2309
L 5684 2309
z
" transform="scale(0.015625)"/>
</defs>
<use href="#IPAGothic-6700"/>
<use href="#IPAGothic-9ad8" transform="translate(100 0)"/>
<use href="#IPAGothic-5024" transform="translate(200 0)"/>
</g>
</g>
<g id="line2d_78">
<path d="M 642.22304 83.71075
L 652.22304 83.71075
L 662.22304 83.71075
" style="fill: none; stroke: #4a9bff; stroke-width: 1.5; stroke-linecap: square"/>
<g>
<use href="#m0b349b2abe" x="652.6800" y="83.8800" style="fill: #4a9bff; stroke: #4a9bff"/>
</g>
</g>
<g id="text_42">
<!-- 最安値 -->
<g transform="translate(669.93504 87.21075) scale(0.1 -0.1)">
<defs>
<path id="IPAGothic-5b89" d="M 4728 2381
Q 4484 1484 3969 872
Q 5038 403 5778 31
L 5397 -353
Q 4466 163 3616 538
Q 2703 -194 838 -403
L 550 31
Q 2272 166 3150 738
Q 2625 963 1925 1216
Q 1863 1119 1663 831
L 1259 1050
Q 1684 1650 2088 2381
L 416 2381
L 416 2784
L 2284 2784
Q 2563 3388 2713 3828
L 3169 3706
Q 2972 3178 2791 2784
L 5984 2784
L 5984 2381
L 4728 2381
z
M 4244 2381
L 2600 2381
Q 2459 2097 2209 1659
L 2150 1563
Q 2750 1359 3366 1113
L 3525 1050
Q 4019 1572 4244 2381
z
M 3419 4428
L 5753 4428
L 5753 3163
L 5278 3163
L 5278 4025
L 1116 4025
L 1116 3163
L 641 3163
L 641 4428
L 2931 4428
L 2931 5313
L 3419 5313
L 3419 4428
z
" transform="scale(0.015625)"/>
</defs>
<use href="#IPAGothic-6700"/>
<use href="#IPAGothic-5b89" transform="translate(100 0)"/>
<use href="#IPAGothic-5024" transform="translate(200 0)"/>
</g>
</g>
</g>
</g>
</g>
<defs>
<clipPath id="pd91340e1de">
<rect x="61.60104" y="26.892" width="647.622" height="331.9272"/>
</clipPath>
</defs>
</svg>

</body></html>
